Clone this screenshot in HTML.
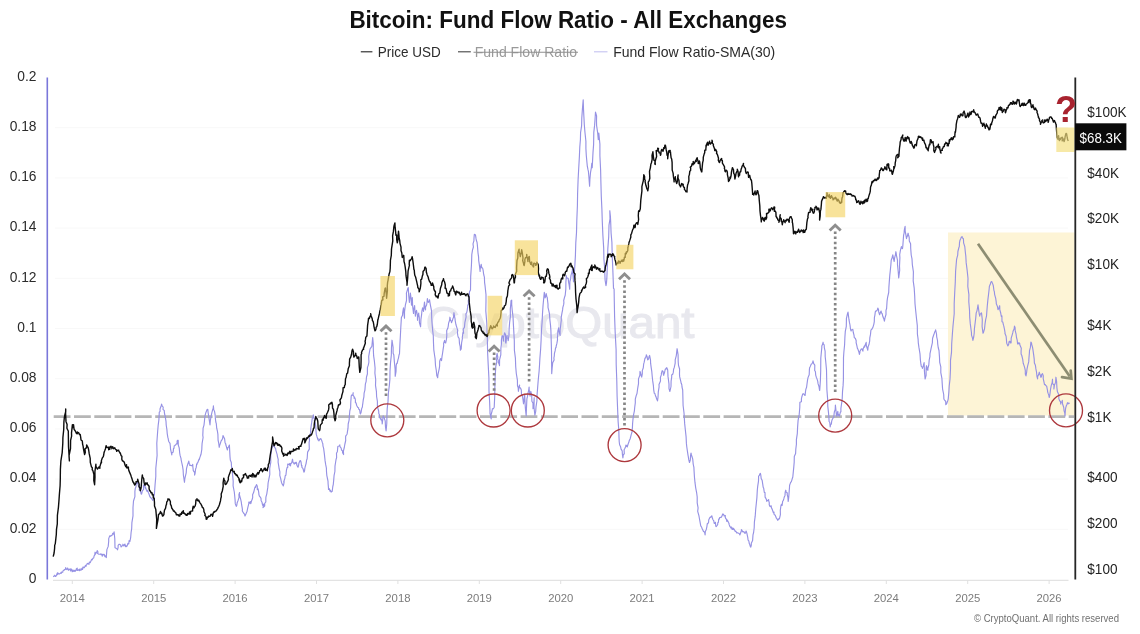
<!DOCTYPE html>
<html lang="en">
<head>
<meta charset="utf-8">
<title>Bitcoin: Fund Flow Ratio - All Exchanges</title>
<style>
html,body{margin:0;padding:0;background:#fff;}
body{width:1140px;height:634px;overflow:hidden;font-family:"Liberation Sans", sans-serif;}
svg{display:block;font-family:"Liberation Sans", sans-serif;}
</style>
</head>
<body>
<svg width="1140" height="634" viewBox="0 0 1140 634">
<rect width="1140" height="634" fill="#ffffff"/>
<line x1="55" x2="1068" y1="529.3" y2="529.3" stroke="#f8f8f8" stroke-width="1"/>
<line x1="55" x2="1068" y1="479.1" y2="479.1" stroke="#f8f8f8" stroke-width="1"/>
<line x1="55" x2="1068" y1="428.9" y2="428.9" stroke="#f8f8f8" stroke-width="1"/>
<line x1="55" x2="1068" y1="378.7" y2="378.7" stroke="#f8f8f8" stroke-width="1"/>
<line x1="55" x2="1068" y1="328.5" y2="328.5" stroke="#f8f8f8" stroke-width="1"/>
<line x1="55" x2="1068" y1="278.3" y2="278.3" stroke="#f8f8f8" stroke-width="1"/>
<line x1="55" x2="1068" y1="228.1" y2="228.1" stroke="#f8f8f8" stroke-width="1"/>
<line x1="55" x2="1068" y1="177.9" y2="177.9" stroke="#f8f8f8" stroke-width="1"/>
<line x1="55" x2="1068" y1="127.7" y2="127.7" stroke="#f8f8f8" stroke-width="1"/>
<rect x="948" y="232.5" width="126.5" height="183" fill="#fdf4d6"/>
<text x="425.5" y="338.4" font-family='"Liberation Sans", sans-serif' font-size="45" fill="#e8e8ee" stroke="#e8e8ee" stroke-width="1.1" textLength="269" lengthAdjust="spacingAndGlyphs">CryptoQuant</text>
<line x1="53.7" x2="1074" y1="416.6" y2="416.6" stroke="#b6b6b6" stroke-width="2.6" stroke-dasharray="16.8 3.5"/>
<line x1="53" x2="1068.5" y1="580.3" y2="580.3" stroke="#dcdcdc" stroke-width="1"/>
<line x1="72.3" x2="72.3" y1="580" y2="584" stroke="#e0e0e0" stroke-width="1"/>
<line x1="153.7" x2="153.7" y1="580" y2="584" stroke="#e0e0e0" stroke-width="1"/>
<line x1="235.1" x2="235.1" y1="580" y2="584" stroke="#e0e0e0" stroke-width="1"/>
<line x1="316.5" x2="316.5" y1="580" y2="584" stroke="#e0e0e0" stroke-width="1"/>
<line x1="397.9" x2="397.9" y1="580" y2="584" stroke="#e0e0e0" stroke-width="1"/>
<line x1="479.3" x2="479.3" y1="580" y2="584" stroke="#e0e0e0" stroke-width="1"/>
<line x1="560.7" x2="560.7" y1="580" y2="584" stroke="#e0e0e0" stroke-width="1"/>
<line x1="642.1" x2="642.1" y1="580" y2="584" stroke="#e0e0e0" stroke-width="1"/>
<line x1="723.5" x2="723.5" y1="580" y2="584" stroke="#e0e0e0" stroke-width="1"/>
<line x1="804.9" x2="804.9" y1="580" y2="584" stroke="#e0e0e0" stroke-width="1"/>
<line x1="886.3" x2="886.3" y1="580" y2="584" stroke="#e0e0e0" stroke-width="1"/>
<line x1="967.7" x2="967.7" y1="580" y2="584" stroke="#e0e0e0" stroke-width="1"/>
<line x1="1049.1" x2="1049.1" y1="580" y2="584" stroke="#e0e0e0" stroke-width="1"/>
<path d="M53.2 576.8 L53.9 576.3 L54.2 576.0 L54.7 575.2 L55.4 576.5 L55.9 576.2 L56.4 575.4 L57.1 573.5 L57.4 574.7 L57.4 572.9 L58.3 573.3 L58.9 574.1 L59.3 574.0 L60.1 573.6 L61.0 572.5 L61.4 573.3 L61.3 572.1 L62.1 572.2 L62.7 572.3 L62.9 570.9 L64.0 570.3 L64.3 569.6 L64.3 570.0 L65.4 569.2 L65.7 567.6 L66.1 569.1 L66.8 569.6 L67.6 568.0 L68.1 569.7 L68.5 570.3 L68.6 569.3 L69.3 569.7 L69.8 569.0 L70.3 568.8 L70.5 570.9 L71.6 569.1 L72.2 571.8 L71.9 569.5 L73.0 571.5 L73.9 570.1 L74.2 571.5 L74.8 570.5 L75.4 571.2 L75.9 570.0 L76.4 568.7 L77.0 570.2 L77.2 568.0 L77.3 570.5 L78.7 569.9 L79.4 569.2 L79.4 570.6 L80.1 570.4 L80.8 569.8 L80.9 568.9 L81.5 569.9 L82.3 568.0 L82.5 569.5 L83.1 566.9 L83.6 567.5 L84.0 567.7 L84.3 567.7 L85.4 565.4 L86.0 566.3 L86.3 565.0 L87.0 564.3 L87.3 563.4 L87.8 563.7 L88.5 563.6 L89.0 564.3 L89.3 562.1 L90.2 562.2 L90.5 561.8 L90.3 562.6 L91.6 559.4 L92.1 559.9 L92.8 558.4 L93.0 558.2 L93.7 558.0 L94.1 555.8 L94.7 555.1 L95.1 552.2 L95.4 554.2 L96.5 552.4 L96.9 551.8 L97.2 550.6 L98.0 552.1 L97.6 553.6 L98.5 554.1 L99.0 554.2 L100.1 554.1 L100.5 553.9 L101.0 554.7 L101.9 554.0 L102.0 554.9 L102.2 556.2 L103.1 554.3 L103.8 554.7 L104.3 555.3 L104.2 554.4 L104.9 556.6 L105.3 555.8 L106.3 557.6 L106.5 554.6 L106.9 549.6 L108.2 546.4 L108.7 541.3 L108.7 538.6 L109.7 535.9 L109.7 536.6 L110.5 536.2 L110.9 535.6 L111.9 535.6 L112.0 535.4 L112.8 533.3 L113.1 533.5 L113.5 534.1 L114.1 531.9 L114.8 538.7 L115.0 547.8 L115.9 548.1 L116.6 548.6 L117.0 548.9 L117.5 549.8 L118.1 547.6 L118.1 545.4 L119.2 544.2 L119.5 544.2 L120.0 544.7 L120.6 544.7 L121.0 547.0 L121.8 546.3 L121.9 546.1 L122.8 545.4 L122.9 544.2 L123.8 546.0 L124.3 544.9 L124.4 544.6 L124.9 544.0 L125.5 546.6 L126.0 545.7 L126.7 546.6 L127.4 545.2 L127.9 543.3 L127.8 543.7 L128.8 543.9 L129.1 540.6 L129.9 541.5 L130.7 537.3 L131.1 532.5 L131.7 528.3 L131.9 522.6 L133.0 515.8 L133.0 507.5 L133.5 501.0 L134.9 496.6 L134.9 491.3 L135.3 488.4 L136.0 486.7 L136.2 483.9 L136.9 483.3 L137.1 481.5 L137.6 482.2 L138.3 485.4 L138.6 485.5 L139.5 488.6 L139.2 489.9 L140.6 491.4 L141.1 493.9 L141.6 494.1 L142.4 490.7 L142.4 490.6 L143.6 489.5 L143.4 485.4 L144.1 484.7 L144.4 485.4 L145.4 488.4 L145.3 486.8 L146.5 490.2 L147.0 491.4 L147.3 490.7 L147.6 490.3 L148.5 493.0 L148.8 493.5 L149.5 495.5 L149.9 496.7 L150.5 497.2 L150.7 497.9 L151.4 498.0 L152.0 499.1 L152.5 499.8 L152.8 500.4 L153.8 498.6 L153.9 496.6 L154.4 494.2 L155.1 484.2 L155.8 476.5 L155.8 468.5 L157.1 455.4 L156.8 443.3 L157.7 430.8 L158.2 425.1 L158.9 419.6 L159.3 412.1 L160.1 411.4 L160.0 409.0 L161.1 406.0 L161.6 404.1 L162.2 406.2 L163.2 407.2 L163.0 409.3 L164.3 410.6 L164.3 411.8 L164.6 414.0 L165.2 416.4 L166.0 421.3 L166.2 425.0 L166.9 429.6 L167.2 433.3 L167.8 437.2 L168.1 438.1 L168.5 440.5 L168.9 441.7 L170.0 443.4 L170.4 446.8 L170.5 449.0 L171.5 453.4 L171.8 455.0 L171.9 452.9 L173.2 452.1 L173.5 448.4 L173.9 448.6 L174.3 445.7 L174.8 445.5 L175.8 444.8 L176.4 443.8 L177.1 444.0 L177.1 441.0 L177.4 440.4 L178.2 440.4 L178.3 445.1 L179.2 447.9 L179.7 453.0 L180.1 455.4 L181.0 458.4 L181.2 460.1 L181.7 462.5 L182.5 466.0 L183.1 469.8 L183.4 475.2 L183.9 478.4 L184.5 482.3 L184.8 478.8 L185.6 475.4 L186.2 472.8 L186.5 468.6 L187.0 466.6 L187.8 464.0 L188.4 462.6 L188.8 461.1 L189.3 464.0 L189.9 464.2 L189.7 465.4 L190.8 465.5 L191.9 465.8 L192.1 465.2 L192.5 465.1 L192.7 464.3 L192.9 467.3 L193.3 470.6 L194.7 472.6 L194.6 475.1 L195.1 473.3 L195.6 469.0 L196.2 467.4 L196.7 463.9 L196.9 464.7 L197.3 462.8 L197.7 462.9 L198.3 461.2 L199.0 459.2 L199.3 459.7 L200.0 456.9 L200.3 456.2 L201.0 454.3 L201.8 449.5 L201.9 446.8 L202.1 443.4 L203.1 437.5 L202.8 435.3 L203.1 428.2 L204.0 425.1 L204.4 421.5 L204.7 418.3 L205.1 415.3 L206.0 412.1 L206.3 411.7 L206.9 409.8 L207.8 409.3 L207.8 409.2 L208.1 412.5 L208.7 416.1 L209.4 421.0 L210.0 424.9 L210.3 421.0 L210.3 420.6 L211.4 414.8 L212.0 412.1 L212.6 410.0 L213.2 408.3 L213.4 405.8 L213.7 409.4 L214.6 411.6 L215.1 414.9 L215.4 418.6 L215.8 422.0 L216.3 423.6 L216.7 428.2 L217.4 431.0 L217.9 434.3 L218.1 440.4 L218.7 443.0 L219.2 447.3 L219.5 445.9 L220.3 443.6 L221.2 440.6 L221.2 440.8 L221.9 439.9 L222.6 438.5 L223.0 435.7 L223.5 436.2 L223.7 436.9 L224.6 438.7 L225.1 443.0 L225.7 443.7 L225.8 444.8 L226.6 447.2 L226.6 447.5 L227.4 450.0 L227.8 447.7 L228.5 447.1 L228.8 446.3 L229.4 445.1 L230.0 456.6 L230.3 460.0 L231.3 462.5 L231.5 466.1 L232.2 470.8 L232.6 475.0 L233.2 481.2 L233.1 485.8 L234.3 492.0 L234.8 497.0 L235.1 500.1 L235.3 503.9 L236.3 506.4 L236.8 505.2 L237.2 502.7 L238.1 500.4 L239.1 497.2 L238.9 494.6 L239.6 492.5 L239.4 494.6 L240.7 499.3 L241.3 502.1 L241.6 504.7 L242.2 507.9 L242.5 510.3 L242.2 510.8 L243.5 513.0 L244.7 514.3 L244.6 514.9 L245.0 516.0 L245.9 514.0 L246.3 513.0 L247.1 511.2 L247.3 510.0 L247.8 507.7 L248.8 503.6 L248.8 502.1 L249.5 503.2 L250.3 501.5 L250.6 503.4 L250.8 503.6 L251.6 500.7 L251.7 500.4 L252.3 499.1 L252.7 497.4 L252.6 494.8 L253.8 492.1 L254.0 491.2 L254.8 487.7 L255.3 486.7 L255.6 487.5 L255.8 486.3 L256.5 484.6 L257.3 486.2 L257.3 489.6 L258.1 488.8 L258.4 490.5 L258.8 492.9 L258.9 494.5 L259.4 496.2 L260.2 497.0 L261.0 498.4 L261.1 500.4 L262.1 502.4 L262.2 503.5 L262.7 505.3 L263.8 504.1 L263.0 507.6 L264.1 506.6 L264.7 505.9 L264.7 503.3 L265.8 502.0 L265.8 500.0 L265.9 497.2 L266.8 493.8 L267.2 491.2 L267.8 487.4 L268.1 483.0 L269.0 478.3 L269.8 474.5 L269.7 468.6 L270.8 462.1 L270.7 458.8 L270.8 455.0 L271.6 450.0 L272.2 446.8 L272.1 447.7 L273.1 445.8 L273.6 443.7 L273.9 445.8 L274.4 446.6 L274.7 447.7 L275.6 448.3 L275.9 450.6 L276.2 451.3 L277.1 454.4 L277.4 456.3 L278.2 459.3 L278.1 462.2 L278.8 466.4 L279.1 468.7 L279.9 471.8 L279.8 475.4 L280.7 478.6 L281.2 481.1 L281.5 482.4 L282.4 484.4 L282.6 484.4 L283.3 485.9 L283.8 483.8 L284.2 481.7 L283.7 482.0 L284.9 478.1 L285.2 475.8 L285.9 475.3 L286.5 469.9 L286.9 468.3 L287.3 467.2 L287.8 467.4 L287.7 464.1 L288.8 464.4 L289.4 463.8 L289.8 465.3 L290.0 463.4 L290.6 465.9 L290.4 464.8 L291.7 462.6 L291.7 463.0 L292.5 459.2 L292.8 461.2 L293.2 462.6 L293.7 463.1 L294.3 464.1 L295.1 462.4 L295.1 463.5 L296.1 463.0 L296.2 462.2 L296.9 464.1 L296.6 464.6 L297.8 467.0 L298.1 467.2 L298.5 465.9 L298.9 463.2 L299.4 462.0 L300.1 460.5 L300.7 461.0 L301.1 462.5 L301.5 465.6 L301.9 465.4 L301.9 467.3 L302.9 468.3 L303.4 470.0 L303.9 472.2 L304.5 471.1 L304.8 468.6 L305.1 467.0 L305.5 465.6 L306.2 463.0 L306.6 460.1 L307.1 459.0 L307.3 456.8 L307.6 452.1 L309.3 449.1 L309.1 442.4 L309.5 440.6 L309.3 436.9 L310.5 433.2 L310.8 428.6 L311.3 424.8 L311.7 422.4 L312.3 418.1 L313.0 417.7 L313.3 414.9 L313.8 417.6 L314.8 420.1 L314.2 420.4 L315.3 423.3 L315.9 427.3 L315.9 429.7 L316.3 434.4 L317.0 436.7 L318.1 440.0 L317.8 438.3 L318.3 439.8 L319.0 440.8 L319.8 439.1 L320.0 439.2 L320.3 439.2 L320.8 438.9 L320.7 438.5 L321.6 440.2 L322.3 442.4 L322.8 443.7 L323.0 446.1 L323.6 448.2 L324.3 453.4 L324.6 456.1 L325.1 460.9 L325.7 464.7 L326.4 468.2 L326.5 471.8 L326.8 475.3 L328.0 481.1 L328.1 483.8 L328.5 488.1 L328.5 489.5 L329.5 488.8 L329.9 491.2 L330.3 490.6 L330.5 490.4 L331.1 492.1 L332.3 490.9 L332.2 491.3 L332.8 486.5 L333.3 484.3 L333.7 480.1 L334.1 475.3 L334.9 471.5 L335.0 466.1 L335.4 463.5 L336.1 459.2 L336.6 457.8 L336.5 453.3 L337.4 451.4 L337.8 446.7 L338.1 446.3 L339.0 446.0 L339.4 445.6 L339.9 444.9 L339.7 445.8 L340.5 447.4 L341.1 447.9 L341.5 450.0 L342.5 450.9 L342.6 452.8 L343.1 453.5 L343.6 454.6 L343.4 451.0 L344.3 447.5 L344.8 444.5 L345.7 440.5 L345.6 438.0 L345.7 436.1 L347.0 434.2 L347.1 433.9 L348.0 428.2 L348.2 424.0 L349.1 420.2 L349.4 415.8 L349.8 411.0 L350.6 407.9 L350.8 401.9 L351.1 397.9 L351.2 396.2 L351.6 395.0 L352.7 395.3 L353.2 392.7 L353.0 395.0 L354.2 396.9 L354.1 398.3 L355.0 398.0 L355.4 400.0 L355.4 402.6 L356.0 402.7 L356.7 405.5 L357.4 406.8 L357.6 407.3 L358.5 407.7 L358.7 409.1 L359.6 409.8 L359.8 410.8 L360.1 413.3 L360.5 413.9 L361.1 412.4 L361.7 408.4 L362.4 407.0 L362.5 405.5 L362.9 402.8 L363.3 399.6 L363.9 396.8 L364.1 393.2 L364.9 390.1 L365.4 383.8 L366.1 381.6 L366.5 377.0 L367.4 374.0 L367.4 370.9 L367.4 367.6 L368.3 365.1 L368.9 362.0 L368.7 356.4 L369.4 352.4 L370.1 348.7 L370.5 348.4 L371.0 347.5 L371.7 346.7 L371.9 346.1 L372.7 337.6 L373.3 344.0 L373.3 348.5 L373.6 355.7 L374.4 361.2 L375.1 368.3 L374.9 373.1 L375.7 379.7 L375.5 385.3 L376.4 391.3 L376.6 396.5 L377.4 401.4 L377.4 406.0 L378.1 409.0 L378.7 411.2 L378.8 413.6 L379.4 414.8 L379.6 417.6 L380.3 418.2 L380.7 418.6 L380.9 419.8 L381.2 418.8 L382.1 421.7 L382.2 424.0 L382.7 419.9 L383.2 415.8 L383.3 416.6 L384.0 417.3 L384.9 420.1 L385.2 420.9 L385.5 427.1 L386.1 430.9 L386.8 423.3 L386.9 416.2 L387.2 408.9 L388.0 401.4 L388.4 393.0 L389.3 385.8 L389.9 379.1 L390.0 371.0 L390.5 362.9 L391.3 355.4 L391.5 347.5 L392.0 340.2 L393.1 347.4 L393.1 353.2 L393.8 354.8 L394.3 361.1 L395.1 369.1 L395.2 376.3 L396.0 371.7 L396.2 365.3 L396.7 363.4 L397.1 363.5 L398.1 359.1 L398.4 358.4 L399.1 354.7 L399.5 353.8 L399.9 344.2 L400.4 335.5 L400.8 327.5 L401.4 317.4 L402.0 316.2 L402.5 315.4 L402.7 312.5 L403.5 307.9 L403.9 312.4 L404.5 318.2 L404.5 312.0 L405.4 304.8 L406.5 300.5 L406.5 294.9 L406.4 293.2 L407.4 289.8 L407.8 288.4 L408.3 287.7 L408.7 295.5 L409.4 302.5 L410.0 297.2 L410.4 293.1 L411.1 298.8 L411.5 305.1 L412.1 300.4 L412.3 297.5 L412.7 306.7 L413.5 313.4 L413.6 310.2 L414.6 305.6 L414.9 310.2 L415.4 316.1 L415.8 312.5 L416.5 310.4 L417.4 315.5 L417.5 320.3 L417.7 317.8 L418.7 313.1 L418.7 314.2 L419.3 317.5 L419.4 322.6 L420.6 326.8 L420.9 319.7 L421.6 314.7 L421.9 311.0 L422.6 307.8 L423.0 309.4 L423.5 311.4 L424.0 306.2 L424.5 302.1 L425.0 308.0 L425.5 309.9 L425.6 307.0 L426.6 305.0 L427.0 302.4 L427.4 298.6 L428.1 301.9 L428.3 302.4 L429.7 300.4 L429.5 299.8 L430.0 302.9 L430.4 305.1 L431.5 310.7 L431.7 317.6 L432.0 322.8 L432.7 330.6 L433.3 335.9 L433.5 343.2 L433.8 349.8 L434.6 355.5 L435.1 358.6 L435.5 365.5 L436.3 370.5 L436.8 375.8 L436.8 375.6 L437.7 377.7 L437.9 374.8 L438.7 371.1 L439.2 368.8 L439.6 366.2 L439.7 361.2 L440.6 358.6 L440.9 358.7 L441.5 360.6 L442.0 356.7 L442.6 353.0 L443.1 349.4 L443.7 345.7 L443.6 343.4 L444.6 340.4 L444.8 342.4 L445.7 342.9 L446.5 339.0 L446.8 335.4 L446.7 330.6 L447.8 328.3 L448.3 325.8 L448.6 323.1 L449.0 322.0 L449.6 320.3 L449.9 317.2 L450.5 320.4 L451.1 320.8 L451.5 322.7 L452.0 321.2 L452.4 320.7 L453.0 318.4 L453.5 317.5 L453.7 314.5 L454.0 312.7 L454.3 315.2 L455.1 319.1 L455.1 320.1 L455.6 322.8 L455.9 324.5 L456.7 327.1 L457.7 330.3 L457.4 332.9 L457.9 335.9 L458.2 337.2 L459.1 338.3 L459.3 340.8 L459.5 343.6 L460.2 346.5 L460.4 350.1 L461.2 348.9 L461.5 344.8 L461.6 342.8 L462.4 338.6 L462.3 337.6 L462.9 332.7 L463.6 333.2 L463.2 329.1 L464.3 327.6 L464.5 326.8 L464.9 322.3 L465.5 319.7 L466.1 316.9 L465.9 313.9 L466.6 312.8 L467.1 310.8 L467.7 306.7 L467.7 305.4 L468.5 304.1 L468.3 300.7 L469.2 297.3 L469.2 295.9 L469.5 291.8 L470.5 289.9 L470.7 276.4 L471.4 265.7 L471.6 261.0 L471.8 254.5 L472.5 250.2 L473.4 247.0 L473.0 243.9 L473.9 240.8 L474.0 238.3 L474.3 234.6 L474.9 234.3 L475.5 235.0 L476.0 238.4 L476.4 240.5 L477.0 242.1 L477.3 244.5 L477.6 247.9 L478.0 252.8 L478.6 257.2 L478.7 260.5 L479.1 263.2 L479.6 267.0 L480.1 271.5 L480.2 269.1 L480.8 265.8 L481.2 264.3 L481.6 266.8 L481.5 267.6 L482.6 268.0 L483.2 270.7 L483.5 273.3 L483.8 275.0 L484.4 277.1 L484.6 282.6 L485.0 285.4 L486.0 294.8 L486.0 300.8 L485.8 310.9 L486.8 323.4 L487.3 337.0 L487.6 352.3 L488.2 364.6 L488.9 377.7 L489.0 391.5 L489.6 401.2 L490.0 411.2 L490.0 413.5 L491.2 418.9 L491.0 415.0 L492.1 411.0 L492.4 408.7 L493.2 408.8 L493.8 408.0 L494.2 407.2 L494.7 396.7 L494.9 385.9 L495.2 375.7 L495.8 366.4 L496.8 361.8 L496.1 358.4 L497.1 353.3 L497.8 357.1 L497.5 358.8 L498.3 360.4 L498.4 362.7 L499.0 363.7 L499.5 365.7 L499.6 359.6 L500.8 354.9 L500.9 348.0 L501.4 344.2 L501.4 340.0 L502.1 335.6 L503.0 336.4 L503.4 340.5 L503.4 341.1 L503.5 337.7 L504.2 334.8 L504.6 332.9 L505.6 334.7 L505.4 341.5 L505.9 343.2 L506.2 340.7 L506.4 337.9 L507.1 335.5 L507.2 337.4 L507.9 338.8 L508.2 340.7 L509.0 334.9 L509.1 329.2 L509.6 322.7 L510.4 316.7 L510.3 309.2 L510.9 302.7 L511.0 300.6 L511.7 300.1 L511.7 304.2 L512.2 310.3 L513.0 316.6 L513.3 322.8 L513.8 331.6 L514.3 340.6 L514.4 350.2 L515.4 358.1 L515.7 366.5 L516.3 373.5 L517.4 380.2 L517.5 385.8 L518.2 387.7 L518.4 391.3 L519.0 386.9 L519.6 385.0 L519.4 387.2 L520.6 388.2 L521.3 390.0 L521.5 394.1 L521.9 395.6 L522.4 395.6 L523.0 399.6 L523.5 403.8 L524.1 399.3 L524.7 394.7 L525.0 402.0 L525.4 408.5 L525.9 413.5 L526.2 415.8 L526.5 407.2 L526.9 398.9 L527.5 396.4 L528.0 393.1 L528.7 390.2 L529.1 387.0 L529.2 390.2 L530.1 396.2 L530.4 393.5 L530.8 391.3 L531.7 395.4 L531.9 401.2 L533.0 403.3 L533.0 408.7 L533.8 403.6 L534.2 397.7 L534.0 407.3 L534.9 415.2 L535.7 411.4 L536.0 406.8 L536.9 401.0 L537.0 395.8 L537.6 388.1 L538.2 380.5 L538.6 376.2 L539.1 371.3 L539.5 365.5 L539.9 358.4 L540.6 349.5 L541.1 340.3 L541.4 331.4 L542.1 322.1 L542.5 313.5 L543.1 304.8 L543.6 299.5 L544.3 292.4 L544.9 295.8 L545.1 297.9 L546.0 295.6 L546.2 293.6 L546.7 296.2 L547.3 297.8 L547.5 300.0 L548.0 304.3 L548.0 307.4 L548.6 309.8 L549.5 313.9 L549.6 315.9 L549.9 320.0 L550.5 325.1 L550.9 330.4 L551.5 351.0 L551.7 373.6 L552.1 368.6 L552.7 362.8 L554.1 360.1 L553.9 358.0 L554.3 355.8 L554.4 353.7 L555.1 350.9 L555.6 347.7 L556.0 347.6 L556.2 346.0 L556.9 343.4 L557.5 339.8 L557.4 337.5 L557.7 335.0 L557.9 331.1 L558.7 327.9 L558.8 330.7 L559.6 333.3 L560.1 335.4 L560.1 330.5 L560.9 323.3 L561.3 320.0 L561.2 317.3 L562.0 312.9 L562.6 309.9 L562.8 307.6 L563.7 304.4 L563.9 302.4 L563.7 300.5 L564.7 296.7 L565.2 295.2 L565.8 289.2 L565.9 281.7 L566.4 275.7 L566.5 277.4 L567.5 278.2 L568.2 278.2 L568.6 282.4 L569.1 284.6 L569.7 289.2 L569.9 281.5 L570.6 278.9 L571.0 275.4 L571.8 272.6 L572.5 269.9 L572.3 268.7 L573.1 276.1 L573.5 281.8 L573.6 275.7 L574.4 272.5 L575.0 262.9 L575.4 255.9 L575.8 242.6 L576.5 232.6 L576.8 220.7 L577.4 205.8 L577.6 193.6 L578.1 179.8 L578.7 168.5 L579.4 156.4 L579.8 147.0 L580.4 139.8 L580.6 132.3 L581.6 125.8 L581.8 118.0 L582.4 109.4 L583.2 99.8 L583.5 108.9 L583.9 116.7 L584.3 124.5 L585.0 132.7 L585.9 141.2 L585.9 148.5 L586.3 155.5 L587.0 163.0 L587.3 166.2 L588.0 169.7 L588.4 171.3 L588.8 175.7 L589.6 186.1 L589.9 179.5 L590.5 172.7 L591.3 168.1 L591.8 163.4 L592.2 167.6 L593.0 152.6 L593.6 144.6 L593.8 132.4 L594.6 125.4 L595.0 119.8 L595.5 112.1 L596.6 115.8 L596.5 121.6 L596.6 125.6 L597.6 132.3 L598.3 139.7 L598.8 133.0 L599.9 144.1 L599.9 155.7 L600.6 169.5 L600.9 182.6 L601.3 196.6 L601.9 209.1 L602.3 221.7 L602.9 235.6 L603.7 248.4 L603.9 258.8 L604.6 267.4 L604.9 275.5 L605.1 280.1 L606.0 285.7 L606.5 282.6 L606.8 278.9 L607.5 262.5 L607.8 249.1 L608.7 236.6 L609.0 225.2 L610.0 218.9 L609.8 210.7 L610.4 216.3 L610.7 222.4 L611.1 233.3 L611.9 242.2 L612.2 255.2 L612.8 269.0 L613.5 288.3 L614.1 288.9 L614.3 301.2 L614.6 316.7 L615.2 333.0 L616.1 349.6 L616.2 364.4 L616.8 381.2 L617.1 395.9 L617.6 408.7 L618.1 421.3 L618.8 430.2 L619.0 437.1 L619.2 441.5 L619.6 444.7 L620.6 446.8 L621.1 449.4 L621.3 449.4 L622.2 451.0 L622.4 454.4 L622.9 457.9 L623.3 454.7 L624.3 453.8 L624.1 449.8 L624.8 448.5 L625.5 446.9 L626.0 445.0 L626.5 446.3 L626.8 445.8 L627.3 446.9 L627.8 445.0 L628.7 442.4 L629.0 441.9 L629.1 441.0 L630.2 438.7 L630.5 437.5 L631.2 434.6 L632.0 432.0 L632.4 427.9 L632.6 423.5 L633.0 419.0 L633.5 415.1 L634.4 410.8 L634.7 407.5 L635.3 402.9 L635.3 399.2 L636.2 395.6 L637.0 393.5 L637.6 389.0 L637.9 387.1 L638.5 383.6 L638.5 378.9 L639.9 375.1 L640.0 371.4 L640.5 372.5 L641.2 375.9 L641.7 377.1 L642.3 373.9 L642.3 370.6 L643.3 367.8 L643.7 363.8 L644.2 362.2 L645.0 358.1 L645.6 357.9 L646.3 355.5 L646.3 354.7 L647.3 357.3 L647.2 357.6 L647.7 360.0 L648.6 358.8 L649.1 356.4 L649.6 355.4 L650.5 359.8 L650.6 363.2 L651.2 367.6 L651.8 371.7 L652.2 376.3 L652.7 380.9 L653.4 385.7 L653.7 389.8 L654.3 393.3 L654.9 393.6 L655.3 395.0 L655.8 396.6 L655.9 396.5 L656.7 399.0 L657.5 400.9 L658.0 397.5 L658.3 391.8 L659.1 386.9 L659.0 384.6 L660.5 381.1 L660.4 377.5 L661.3 374.9 L661.4 373.4 L662.2 370.7 L663.1 371.5 L663.3 374.1 L663.7 375.3 L663.9 374.1 L664.4 373.1 L665.3 369.0 L666.0 369.2 L666.3 368.0 L666.8 367.7 L667.7 370.0 L668.0 376.4 L668.5 380.2 L669.0 384.1 L669.0 388.6 L669.9 391.5 L671.0 386.5 L671.1 381.2 L671.7 377.1 L671.7 374.9 L672.6 374.5 L673.3 372.4 L673.6 369.2 L674.3 367.4 L674.9 364.5 L675.2 363.2 L675.2 359.8 L676.3 355.6 L676.7 352.1 L677.1 348.7 L678.1 354.9 L678.2 361.8 L678.5 365.3 L679.6 369.0 L679.5 374.3 L679.7 376.9 L680.8 381.4 L681.2 383.3 L681.8 384.8 L682.0 387.0 L682.7 390.0 L683.1 405.5 L684.0 412.8 L684.3 417.8 L684.7 423.9 L685.3 429.5 L686.1 436.9 L686.4 443.4 L686.8 447.0 L687.4 451.2 L688.0 455.1 L688.3 456.6 L688.8 459.9 L689.5 462.5 L690.3 460.1 L690.6 455.3 L691.0 453.0 L691.4 454.7 L692.0 456.8 L692.7 458.9 L693.2 464.1 L693.9 467.4 L694.1 471.4 L694.5 477.6 L695.0 482.7 L695.7 487.8 L696.7 493.2 L697.2 497.0 L697.2 502.8 L698.1 507.8 L697.7 511.3 L698.9 515.6 L699.4 518.5 L699.8 520.6 L700.7 525.7 L700.8 525.9 L701.8 527.5 L702.0 528.5 L702.6 529.4 L703.5 531.5 L703.8 531.6 L704.6 532.2 L704.8 533.2 L705.1 534.9 L705.3 531.4 L706.3 529.4 L706.9 526.6 L707.3 523.5 L707.8 523.6 L708.6 522.2 L708.7 520.0 L709.5 518.3 L709.9 517.4 L710.2 517.5 L711.1 516.8 L711.8 515.8 L712.0 517.0 L712.8 519.2 L713.2 520.0 L713.8 520.9 L714.2 523.5 L714.7 523.5 L715.4 522.3 L715.8 526.1 L716.2 526.6 L717.1 525.5 L717.7 524.5 L717.8 522.7 L718.4 522.2 L718.7 519.1 L719.3 519.2 L719.7 517.5 L720.7 517.3 L720.8 517.4 L721.4 517.3 L722.5 514.7 L722.5 514.0 L722.9 514.1 L723.5 514.3 L724.2 515.9 L725.4 515.6 L725.2 517.0 L725.8 518.8 L726.4 519.1 L726.8 521.5 L727.4 520.0 L727.7 520.8 L728.5 522.6 L729.0 523.4 L729.1 524.4 L729.8 526.3 L730.4 527.1 L731.1 528.2 L731.1 526.7 L732.2 529.5 L732.8 527.9 L733.2 529.6 L733.6 528.5 L734.2 529.3 L734.9 530.7 L735.1 531.4 L735.8 531.5 L735.9 531.2 L736.7 532.9 L736.6 532.8 L737.8 532.7 L738.1 533.2 L739.0 533.3 L739.7 534.4 L739.8 534.9 L740.4 533.5 L741.4 530.8 L741.4 529.6 L741.8 530.1 L742.7 531.7 L743.1 531.9 L743.9 531.5 L744.0 532.0 L744.7 532.9 L745.0 533.4 L745.7 532.2 L746.1 531.0 L746.9 533.4 L747.4 535.9 L747.8 537.7 L748.1 540.2 L748.8 540.9 L749.3 543.6 L749.8 544.5 L750.2 546.1 L750.8 547.1 L751.3 545.2 L751.3 543.3 L752.6 540.6 L753.0 534.8 L753.6 532.5 L754.2 527.8 L754.4 522.1 L755.2 516.2 L755.7 509.3 L756.3 503.5 L756.9 497.6 L757.3 490.2 L757.7 486.4 L758.5 481.2 L758.6 476.2 L759.4 475.3 L759.7 474.2 L760.4 473.4 L760.8 475.2 L761.2 478.6 L762.2 480.6 L762.8 484.6 L763.2 487.3 L763.7 488.3 L764.3 492.4 L765.0 492.6 L765.1 497.1 L765.9 498.4 L766.5 499.8 L766.8 501.5 L766.9 501.0 L768.7 499.6 L768.5 500.0 L769.3 502.9 L769.2 504.5 L769.7 506.2 L770.7 506.6 L771.0 505.6 L771.6 508.0 L771.8 508.6 L772.3 509.5 L773.3 512.7 L774.0 512.1 L774.0 513.9 L774.4 514.8 L775.2 515.1 L776.2 517.8 L776.2 517.9 L777.1 519.0 L777.4 519.7 L777.7 520.3 L778.8 518.9 L778.3 519.0 L779.4 518.9 L780.4 514.7 L780.3 510.3 L780.9 506.0 L781.5 504.3 L782.1 505.5 L782.7 501.2 L783.3 500.5 L783.8 498.9 L784.3 496.9 L785.0 495.4 L785.2 492.1 L785.8 490.2 L786.1 492.1 L787.4 493.0 L787.1 493.9 L787.9 497.4 L788.2 501.4 L788.7 497.6 L789.2 491.1 L789.5 487.2 L789.6 485.2 L790.4 483.1 L790.7 482.2 L791.3 481.8 L792.2 478.8 L792.8 477.0 L793.3 471.9 L793.8 466.9 L794.2 462.1 L794.3 456.4 L795.6 453.6 L795.8 449.2 L796.4 444.3 L796.4 439.7 L797.3 433.7 L797.6 427.1 L798.1 420.4 L799.2 414.4 L799.4 412.2 L799.8 407.3 L799.9 402.2 L801.4 401.7 L801.4 398.8 L801.8 397.0 L802.6 394.4 L803.1 393.7 L803.5 393.7 L804.7 395.2 L805.1 395.5 L805.5 391.5 L805.9 389.1 L806.6 387.3 L806.9 384.8 L807.6 379.6 L808.1 377.4 L809.2 374.7 L809.4 369.6 L809.6 367.7 L810.3 366.4 L811.3 364.0 L811.4 364.1 L812.2 363.3 L812.7 362.4 L813.0 360.9 L813.7 363.7 L814.8 365.2 L814.7 370.6 L815.4 371.5 L815.7 375.1 L816.3 377.2 L817.0 378.9 L817.7 381.2 L818.1 383.9 L819.0 386.5 L819.3 388.8 L819.7 390.5 L820.4 380.3 L820.7 370.7 L820.8 358.0 L821.8 347.6 L821.8 346.1 L822.7 344.0 L823.1 342.2 L823.3 344.0 L824.2 344.9 L824.3 347.6 L825.1 351.1 L825.2 356.8 L825.7 361.2 L826.5 369.9 L826.7 380.6 L826.9 389.8 L827.6 398.6 L827.8 406.3 L828.5 412.6 L828.9 417.5 L829.1 421.5 L829.8 422.5 L830.2 427.0 L830.5 424.8 L830.6 424.6 L831.4 424.1 L831.6 421.6 L832.0 420.1 L833.1 418.0 L833.8 417.1 L834.1 413.9 L834.4 411.6 L835.2 409.5 L835.4 405.1 L836.1 411.9 L836.5 415.9 L836.9 416.2 L837.2 413.4 L837.8 411.4 L838.3 415.5 L839.0 414.6 L839.4 416.2 L839.6 415.3 L840.3 412.3 L840.9 411.8 L840.9 408.3 L841.6 403.5 L842.2 399.0 L842.5 391.9 L843.1 385.4 L843.4 379.7 L843.5 357.5 L843.9 351.7 L844.6 344.8 L844.9 337.2 L845.3 331.4 L846.3 326.3 L846.4 320.9 L846.4 318.6 L847.5 313.7 L848.0 312.1 L848.6 316.8 L848.9 319.2 L849.5 322.7 L850.0 325.0 L850.5 329.1 L851.1 331.0 L851.4 329.8 L852.5 329.7 L852.8 329.4 L853.3 332.5 L854.0 335.1 L854.3 337.7 L855.3 338.2 L856.2 340.8 L856.1 342.5 L856.9 345.9 L857.4 348.4 L857.9 349.1 L858.3 350.2 L858.9 352.0 L859.4 354.4 L859.9 352.7 L859.9 351.5 L861.2 349.1 L862.0 348.9 L862.6 350.4 L862.9 351.1 L863.1 349.0 L863.8 347.3 L864.4 345.9 L864.6 347.1 L865.4 344.5 L866.2 342.4 L866.3 345.3 L867.2 348.4 L867.8 350.2 L868.1 346.7 L869.0 344.6 L869.7 340.8 L869.8 337.9 L870.5 334.4 L870.9 330.2 L872.2 328.8 L872.1 328.6 L872.9 327.4 L873.8 324.3 L874.3 321.6 L874.4 317.6 L874.9 315.1 L875.3 311.9 L876.0 310.8 L876.7 310.9 L877.4 309.8 L877.8 308.0 L878.5 309.5 L878.7 311.9 L879.6 314.7 L880.4 312.5 L880.2 312.8 L881.1 311.1 L881.5 313.0 L882.1 313.4 L882.8 316.3 L883.5 318.2 L883.8 318.6 L884.4 321.1 L885.0 317.8 L886.0 314.5 L886.0 310.4 L886.6 308.5 L887.1 300.8 L887.6 297.4 L888.7 292.5 L888.9 287.1 L889.3 281.6 L889.8 275.1 L890.3 270.5 L890.9 264.5 L891.2 260.2 L892.0 258.0 L892.8 254.8 L893.2 257.2 L893.4 258.3 L894.2 261.5 L894.5 258.4 L895.4 254.9 L895.9 251.7 L896.5 255.6 L897.5 260.3 L897.5 264.6 L898.2 271.1 L898.7 278.0 L899.7 270.2 L899.5 266.1 L899.9 257.7 L899.7 254.5 L900.4 250.3 L901.4 246.6 L901.3 247.8 L902.4 248.6 L902.6 248.0 L902.9 244.9 L903.3 239.3 L903.6 235.2 L904.1 233.2 L904.3 230.1 L905.1 226.3 L905.2 231.1 L905.9 234.8 L906.5 238.6 L906.9 236.9 L907.3 236.3 L908.1 233.2 L908.5 234.9 L908.8 236.0 L909.2 237.5 L909.3 241.0 L910.6 243.7 L910.7 248.3 L911.2 255.0 L912.0 258.9 L912.3 264.3 L913.4 271.8 L913.2 280.9 L914.2 288.2 L914.7 296.0 L915.0 303.6 L915.7 310.8 L916.5 318.5 L917.3 325.6 L917.4 334.0 L918.1 339.2 L918.3 342.8 L918.9 347.2 L920.0 353.9 L920.4 360.0 L920.9 364.2 L921.3 366.4 L922.5 367.6 L922.3 368.5 L923.2 366.1 L923.4 365.5 L924.1 362.6 L924.4 370.9 L925.1 379.0 L926.1 375.4 L926.1 368.7 L926.5 365.7 L927.1 368.2 L927.0 369.6 L927.9 370.2 L927.9 368.3 L928.8 365.0 L929.2 360.0 L929.9 356.7 L930.0 353.6 L930.7 350.3 L931.1 348.3 L932.4 342.7 L932.4 341.4 L932.6 338.2 L933.6 335.2 L933.9 334.6 L934.5 332.6 L935.3 330.7 L935.6 329.9 L936.5 333.8 L936.7 336.8 L937.5 340.5 L937.7 343.8 L938.2 347.5 L939.0 350.5 L939.5 357.5 L939.7 362.3 L940.8 366.8 L940.8 372.6 L941.9 378.3 L942.2 383.4 L942.6 389.1 L943.7 394.5 L943.9 399.0 L944.2 399.6 L944.9 400.5 L945.7 401.4 L945.8 404.7 L946.6 403.9 L947.0 402.7 L947.9 400.2 L948.2 399.1 L948.9 391.6 L949.2 386.2 L950.0 379.2 L950.5 368.7 L950.5 360.4 L951.5 352.4 L951.7 343.7 L952.4 333.7 L953.0 326.0 L954.2 313.8 L954.2 303.3 L954.7 292.7 L955.3 281.9 L955.6 271.3 L956.6 259.3 L957.2 256.9 L957.7 255.1 L957.9 251.5 L958.9 247.5 L959.3 246.5 L959.5 242.7 L960.0 240.2 L960.6 238.9 L961.3 237.1 L962.2 236.7 L962.3 237.9 L963.3 238.5 L963.5 240.0 L963.6 242.9 L964.8 246.7 L965.4 252.8 L965.8 256.0 L966.2 262.9 L967.1 269.9 L968.0 278.3 L967.8 286.4 L968.9 294.7 L968.8 301.7 L969.5 310.0 L969.7 317.1 L970.3 323.9 L971.5 333.0 L971.5 335.1 L972.5 338.1 L972.9 340.4 L973.7 337.0 L974.2 333.2 L974.4 328.9 L975.0 324.0 L975.7 318.2 L976.2 312.9 L976.9 311.1 L977.6 307.6 L978.0 304.8 L978.3 307.0 L979.2 313.6 L979.7 316.2 L980.0 314.5 L981.0 313.3 L981.5 312.9 L982.3 319.8 L982.1 326.4 L983.0 333.2 L983.5 332.4 L984.1 330.2 L984.5 329.0 L985.0 324.2 L985.7 319.4 L986.5 316.2 L986.8 312.0 L987.3 305.7 L987.9 299.6 L988.5 294.7 L989.1 289.5 L989.4 286.2 L990.3 284.3 L990.8 282.4 L991.4 281.5 L991.7 281.5 L992.7 283.9 L993.0 284.7 L993.3 285.6 L993.9 290.3 L994.4 291.9 L994.6 294.3 L995.7 298.3 L996.2 301.8 L996.3 303.7 L997.5 306.6 L998.0 309.7 L998.4 309.0 L999.0 307.7 L999.7 305.7 L999.8 309.7 L1000.7 313.0 L1001.3 316.4 L1001.9 315.9 L1002.0 321.7 L1002.8 322.1 L1003.5 325.2 L1003.8 326.2 L1004.5 329.4 L1005.1 333.2 L1004.9 333.2 L1006.1 336.3 L1006.4 339.2 L1006.7 343.1 L1007.8 345.9 L1008.7 344.4 L1008.9 342.5 L1009.3 341.2 L1010.0 341.2 L1010.3 342.8 L1011.1 342.8 L1011.2 338.1 L1012.2 334.8 L1012.8 332.7 L1013.1 331.1 L1014.1 329.1 L1014.5 326.1 L1015.1 327.7 L1015.2 330.7 L1016.1 334.2 L1016.5 337.5 L1017.2 340.1 L1017.6 344.0 L1018.7 343.7 L1018.5 342.8 L1019.6 343.0 L1019.9 345.1 L1021.3 348.2 L1021.1 350.9 L1021.1 353.9 L1021.8 355.5 L1022.7 359.3 L1023.2 363.3 L1023.8 364.9 L1024.6 367.4 L1025.3 370.4 L1025.3 374.0 L1026.0 375.9 L1026.6 372.5 L1027.0 369.1 L1027.6 366.2 L1028.7 361.9 L1029.0 357.4 L1029.4 352.9 L1029.5 350.6 L1030.4 347.4 L1030.9 342.0 L1031.5 343.1 L1031.8 344.7 L1032.6 347.6 L1033.1 350.8 L1033.7 355.2 L1034.2 359.1 L1034.4 363.1 L1035.4 365.3 L1035.9 368.9 L1036.5 372.0 L1037.0 376.7 L1037.6 378.9 L1037.6 376.6 L1038.6 374.8 L1039.3 372.2 L1039.6 374.1 L1039.9 373.9 L1040.9 377.3 L1041.5 376.6 L1041.6 374.7 L1042.5 373.7 L1043.3 375.9 L1043.2 378.5 L1044.0 382.2 L1044.5 384.7 L1045.2 384.5 L1045.7 385.4 L1046.7 386.3 L1047.6 390.8 L1047.6 391.8 L1048.3 393.9 L1048.8 395.1 L1049.2 397.5 L1049.7 395.6 L1050.1 392.9 L1050.5 389.5 L1051.2 385.6 L1052.2 382.3 L1052.5 379.2 L1052.6 383.7 L1054.0 385.0 L1053.9 389.0 L1054.4 385.3 L1055.6 382.4 L1055.9 377.2 L1056.6 381.6 L1056.9 387.7 L1057.4 391.8 L1057.9 392.6 L1058.9 395.2 L1058.8 398.6 L1059.8 401.0 L1060.8 401.8 L1060.8 404.1 L1060.5 402.2 L1062.1 402.0 L1062.3 400.3 L1062.5 403.8 L1063.7 407.2 L1064.1 410.9 L1064.8 413.1 L1065.0 415.9 L1065.3 411.1 L1065.7 407.8 L1066.4 405.5 L1066.9 404.5 L1067.4 403.0 L1067.8 402.5 L1068.1 403.9 L1069.1 403.1 L1069.1 403.9" fill="none" stroke="#9692e4" stroke-width="1.15" stroke-linejoin="round"/>
<path d="M53.2 556.6 L54.1 553.0 L54.6 548.4 L54.7 545.4 L55.3 543.6 L55.9 538.2 L56.3 534.5 L56.5 529.3 L57.3 523.9 L57.4 515.4 L58.4 507.6 L58.9 501.4 L59.4 494.1 L60.1 485.8 L60.3 478.4 L60.4 469.1 L60.9 460.8 L62.2 452.6 L62.8 443.2 L62.9 437.6 L63.7 429.8 L63.9 421.9 L64.3 418.0 L64.9 414.7 L65.7 411.8 L65.7 408.9 L65.6 413.7 L66.0 421.4 L67.1 424.6 L66.9 428.3 L67.7 429.9 L68.3 431.0 L68.5 446.6 L69.4 460.9 L69.0 455.8 L70.5 448.7 L70.6 440.3 L71.6 436.1 L71.5 432.8 L72.0 428.4 L72.4 424.6 L72.4 428.1 L73.5 424.6 L74.1 429.4 L74.6 430.0 L75.5 431.3 L75.6 431.4 L76.3 433.3 L77.5 432.0 L77.1 433.8 L77.9 432.3 L78.0 432.9 L78.7 432.7 L79.4 434.6 L80.2 434.4 L80.7 437.4 L81.0 440.0 L81.5 440.3 L82.3 441.0 L82.6 444.1 L83.1 446.2 L83.4 448.4 L84.0 451.5 L84.6 454.5 L85.3 452.6 L85.0 448.9 L86.6 447.6 L86.6 444.9 L87.4 446.3 L88.1 447.5 L88.6 449.7 L88.9 451.5 L89.2 453.7 L90.2 458.4 L90.3 462.4 L91.2 465.9 L91.4 466.8 L92.3 467.7 L92.2 469.7 L92.9 470.6 L93.9 474.5 L93.8 480.6 L94.6 484.7 L95.0 477.2 L94.9 471.6 L95.9 464.3 L95.9 466.2 L96.6 467.6 L97.5 469.1 L97.6 468.7 L98.6 467.5 L99.0 466.9 L99.3 467.5 L99.9 468.3 L99.8 466.9 L101.3 461.7 L101.5 462.8 L101.4 460.6 L102.2 458.2 L103.3 456.7 L103.7 455.0 L104.0 452.8 L104.5 451.2 L104.9 450.3 L105.4 448.9 L106.1 445.6 L106.8 447.6 L107.5 447.5 L107.4 447.5 L108.6 447.2 L108.7 449.7 L109.9 449.1 L110.0 446.8 L110.6 447.2 L110.9 446.1 L112.0 447.8 L111.8 448.7 L112.5 447.6 L112.6 446.6 L113.7 448.8 L114.3 448.3 L114.8 447.7 L115.2 448.9 L115.8 449.6 L116.3 449.7 L116.7 451.4 L117.4 450.3 L118.1 450.1 L118.7 450.2 L118.7 450.8 L119.7 452.3 L120.2 453.4 L120.3 453.0 L121.1 455.6 L121.9 456.2 L121.8 459.2 L122.5 461.1 L123.3 461.1 L123.7 461.5 L124.4 462.6 L124.7 464.1 L125.1 465.2 L125.8 466.8 L126.5 464.6 L126.6 467.3 L126.9 468.0 L128.2 466.9 L128.5 467.8 L128.3 467.9 L128.9 470.8 L129.4 471.9 L130.6 474.6 L130.9 475.4 L131.3 476.8 L132.0 478.7 L132.4 480.3 L133.1 482.2 L134.0 483.5 L133.6 482.3 L134.6 485.0 L135.2 484.7 L135.4 483.8 L136.1 482.7 L136.0 481.8 L137.4 481.6 L137.7 479.3 L138.5 482.1 L139.2 484.3 L139.0 486.6 L140.0 488.1 L140.4 490.7 L141.1 487.9 L141.4 484.0 L141.8 479.1 L142.3 475.0 L142.7 477.0 L143.7 478.6 L144.1 482.7 L144.9 485.1 L145.0 485.3 L145.9 482.7 L146.5 484.0 L147.1 483.8 L147.3 483.0 L147.0 483.8 L148.7 485.8 L149.1 486.3 L149.1 488.8 L149.8 491.0 L150.4 490.9 L151.1 492.9 L151.9 492.6 L152.3 494.8 L152.6 494.1 L153.2 494.8 L153.3 498.1 L154.2 498.3 L154.5 503.1 L154.5 506.0 L155.8 509.6 L156.7 519.5 L156.4 528.4 L157.1 524.5 L158.0 519.6 L158.5 514.8 L158.3 515.0 L160.0 513.0 L160.3 511.9 L160.5 511.4 L161.3 513.8 L161.8 513.1 L161.8 513.1 L162.5 516.0 L163.1 515.8 L163.9 514.6 L164.0 513.3 L164.5 510.1 L165.5 508.4 L165.7 507.3 L166.0 505.5 L166.5 504.4 L166.7 502.2 L167.9 500.3 L167.8 499.0 L169.3 499.2 L169.3 499.4 L169.8 500.3 L170.4 501.8 L170.4 504.2 L171.3 505.9 L171.7 508.0 L173.0 509.9 L172.8 509.6 L173.4 511.1 L174.2 511.2 L174.4 511.0 L174.8 511.9 L175.8 512.8 L176.4 514.9 L176.3 514.1 L177.1 514.6 L178.0 514.8 L178.2 515.4 L178.7 514.9 L179.0 516.0 L179.9 516.0 L180.1 513.9 L181.2 513.6 L181.3 514.4 L181.7 513.4 L181.6 512.5 L182.7 511.5 L183.4 510.8 L183.1 513.3 L184.0 512.9 L184.7 513.5 L185.1 514.1 L185.9 514.8 L186.1 514.6 L186.1 515.2 L187.1 515.4 L187.6 513.5 L188.0 513.9 L188.5 513.8 L189.0 514.2 L189.5 511.9 L190.4 514.0 L190.6 511.4 L191.4 511.1 L192.3 511.0 L192.6 510.9 L192.7 508.5 L193.2 506.2 L193.9 507.9 L194.4 506.9 L195.2 505.9 L195.7 503.6 L195.9 500.0 L197.2 499.6 L197.0 498.8 L197.3 500.0 L198.0 500.9 L198.5 500.0 L199.0 500.7 L199.6 502.2 L200.0 502.8 L201.0 504.2 L201.6 505.4 L202.3 507.0 L202.2 507.3 L203.2 507.8 L203.9 509.9 L203.9 511.5 L205.2 514.2 L204.8 515.2 L206.0 516.6 L206.2 519.1 L206.8 519.3 L207.1 518.2 L207.8 516.9 L208.5 517.0 L208.8 516.0 L209.3 516.3 L210.1 516.2 L210.4 515.6 L211.0 514.3 L211.3 514.8 L212.0 514.3 L212.6 516.4 L213.1 513.6 L213.5 512.5 L213.8 511.9 L214.6 512.2 L215.0 511.4 L215.3 511.2 L216.0 511.1 L216.9 509.9 L216.8 509.8 L217.8 508.6 L217.9 507.9 L218.8 506.3 L219.4 504.7 L220.0 502.5 L220.5 500.9 L220.8 498.5 L221.3 496.7 L221.2 494.0 L222.3 491.0 L223.2 486.3 L223.1 482.9 L223.8 478.1 L224.3 480.6 L225.0 480.8 L224.9 483.6 L225.3 484.6 L225.7 484.4 L226.5 483.8 L227.3 481.7 L227.6 481.6 L228.4 479.5 L228.3 477.5 L228.9 475.6 L229.7 473.4 L230.2 472.0 L230.9 469.7 L231.2 470.3 L232.5 469.8 L232.2 468.4 L232.7 470.5 L233.1 471.9 L234.2 471.3 L234.6 473.5 L234.9 473.8 L235.4 473.6 L236.3 475.5 L236.7 474.8 L237.3 475.5 L237.7 476.6 L239.1 478.6 L239.0 479.9 L239.5 479.5 L239.3 480.7 L240.1 482.8 L240.7 482.0 L240.9 480.8 L241.6 481.8 L242.2 478.5 L242.7 478.3 L243.7 477.0 L243.3 474.9 L243.9 475.2 L245.1 473.9 L245.3 473.6 L245.6 473.8 L246.1 475.4 L246.7 475.7 L247.3 478.2 L248.2 477.0 L248.6 478.0 L248.7 476.3 L249.4 475.4 L250.3 475.8 L250.6 476.3 L251.1 475.0 L251.8 475.3 L252.0 475.6 L252.0 477.0 L252.7 473.5 L253.6 474.2 L254.0 477.0 L254.6 476.1 L255.1 475.2 L255.8 476.9 L257.0 474.0 L256.9 474.5 L257.1 473.9 L257.8 472.5 L258.4 474.1 L259.2 472.4 L259.8 470.8 L259.6 470.7 L260.6 470.4 L260.9 468.7 L261.9 470.1 L261.2 468.8 L262.5 471.8 L263.2 470.2 L264.0 469.6 L264.2 468.5 L265.3 468.1 L265.5 468.7 L265.4 470.4 L266.5 469.4 L266.7 470.0 L267.3 470.7 L267.7 467.9 L268.2 467.0 L268.3 464.6 L269.1 463.1 L269.6 459.6 L270.1 456.2 L270.7 452.3 L271.1 450.3 L271.7 446.3 L272.6 441.5 L272.6 437.0 L273.2 440.8 L273.3 441.6 L274.0 445.7 L274.8 444.8 L274.6 444.6 L275.6 442.5 L276.1 443.2 L276.7 443.6 L276.7 442.8 L277.6 445.2 L277.7 443.7 L278.7 445.3 L279.6 444.6 L280.2 446.2 L279.7 445.2 L281.1 446.4 L281.9 448.1 L281.7 451.0 L282.5 453.1 L283.1 454.4 L283.9 453.3 L283.5 456.1 L284.6 455.1 L285.1 455.1 L285.8 454.4 L285.6 454.2 L287.1 455.4 L287.6 453.1 L287.3 455.3 L288.3 452.9 L288.8 453.3 L289.8 451.2 L290.2 452.0 L290.2 454.0 L291.3 451.3 L291.6 451.4 L292.9 451.2 L292.7 451.5 L293.2 450.8 L293.5 448.9 L293.8 450.8 L294.7 449.9 L296.0 449.2 L295.8 450.0 L296.3 448.4 L296.7 448.6 L298.1 448.8 L298.0 448.8 L299.2 449.0 L298.5 446.7 L299.5 446.9 L299.7 446.2 L301.0 446.3 L300.9 445.2 L301.4 444.6 L302.2 441.7 L303.2 438.4 L303.3 438.8 L303.8 439.4 L304.8 438.3 L304.8 440.3 L304.8 442.9 L305.7 440.7 L306.8 438.4 L306.8 437.8 L307.3 438.4 L308.2 437.0 L308.1 437.3 L308.9 435.8 L309.5 435.4 L309.7 436.4 L310.3 435.0 L310.8 434.8 L311.4 435.0 L312.3 432.5 L312.7 431.0 L313.1 430.3 L313.5 428.1 L314.1 428.0 L314.2 424.9 L314.6 421.6 L315.2 419.4 L315.8 416.4 L316.6 418.7 L317.1 418.6 L317.4 419.7 L317.8 421.2 L318.1 426.7 L318.3 428.9 L319.6 430.7 L320.0 428.8 L320.3 425.3 L321.0 424.4 L322.2 423.0 L322.1 421.3 L322.4 419.3 L323.0 420.3 L323.7 417.2 L324.3 417.6 L324.5 415.5 L325.4 417.9 L326.3 415.4 L326.3 418.2 L326.5 414.4 L327.5 412.5 L327.7 411.9 L328.6 409.7 L328.9 407.4 L328.7 405.0 L329.6 404.0 L330.5 403.9 L330.5 403.0 L331.2 403.6 L331.6 402.5 L331.9 402.2 L332.4 404.3 L332.5 408.1 L333.4 409.2 L333.9 412.9 L334.3 417.9 L335.1 420.7 L335.8 418.2 L335.7 415.7 L336.6 412.1 L337.1 410.4 L337.3 409.1 L338.0 407.2 L338.3 405.5 L338.5 404.8 L339.4 404.5 L339.8 404.7 L340.5 402.9 L339.9 400.0 L341.4 397.9 L341.9 394.8 L342.0 394.9 L343.0 391.3 L343.1 387.8 L344.3 387.6 L344.6 385.6 L345.2 384.7 L345.5 378.8 L346.1 377.5 L346.7 374.0 L347.1 373.4 L347.6 373.1 L348.2 368.8 L349.4 365.7 L349.4 363.4 L349.6 360.4 L349.6 359.1 L350.7 357.2 L351.5 354.3 L352.0 350.8 L352.6 349.2 L353.5 351.9 L353.4 354.6 L353.9 357.1 L354.7 355.9 L355.1 355.7 L355.7 353.1 L356.0 355.4 L356.8 356.1 L357.2 358.5 L358.1 357.7 L358.3 357.1 L358.8 356.9 L359.0 361.5 L359.3 367.1 L359.8 372.4 L360.9 367.5 L361.1 360.1 L361.1 354.8 L361.7 353.4 L361.5 352.5 L362.5 350.0 L363.7 349.2 L363.3 348.2 L363.7 347.8 L365.4 343.0 L365.1 341.5 L365.5 339.4 L365.8 337.2 L366.9 336.1 L367.1 333.4 L367.6 325.4 L368.3 320.6 L368.5 318.3 L369.4 318.6 L369.6 317.3 L370.9 314.7 L370.7 313.8 L371.2 316.9 L371.5 316.8 L372.3 319.1 L372.4 320.5 L373.2 321.6 L373.8 324.8 L373.9 326.1 L374.7 329.9 L375.0 330.9 L375.5 330.3 L376.0 328.9 L376.1 327.2 L376.7 326.7 L377.3 324.5 L377.5 322.8 L377.8 320.2 L378.1 319.3 L378.9 315.7 L379.5 313.4 L379.8 311.4 L380.3 309.4 L380.9 305.6 L381.3 304.4 L381.7 300.7 L382.5 299.7 L382.9 299.9 L382.7 296.9 L384.0 296.3 L384.2 293.3 L385.1 288.4 L385.6 288.0 L386.3 294.0 L386.6 298.3 L387.4 290.8 L387.3 285.7 L387.6 282.4 L388.1 280.1 L388.7 276.4 L389.2 273.7 L389.9 271.6 L390.2 268.2 L390.4 261.6 L390.4 260.5 L391.3 255.4 L391.5 249.0 L392.0 245.9 L392.8 240.8 L392.6 235.8 L393.4 231.4 L393.8 227.2 L394.2 225.1 L394.9 222.9 L395.1 227.2 L395.6 231.4 L395.9 235.3 L396.7 235.0 L396.7 239.7 L397.3 242.8 L398.2 238.7 L398.2 235.3 L398.5 231.1 L398.9 234.8 L399.1 237.6 L399.7 240.4 L400.0 243.3 L401.0 247.2 L401.0 250.5 L401.8 253.0 L402.1 256.1 L402.3 257.5 L402.6 256.5 L403.2 256.5 L403.7 255.3 L403.9 257.7 L404.0 261.4 L404.7 264.0 L405.2 267.1 L405.8 271.7 L406.0 275.7 L407.0 282.3 L407.0 285.3 L407.7 277.7 L408.1 270.8 L409.5 264.9 L409.2 264.6 L409.4 260.2 L409.7 260.9 L410.3 260.6 L410.7 259.8 L410.6 259.7 L411.6 258.8 L412.1 256.6 L412.6 259.0 L413.1 262.6 L413.4 265.0 L413.9 269.4 L414.3 270.3 L414.5 273.1 L414.8 275.3 L415.6 277.0 L416.1 279.2 L416.7 281.6 L417.4 284.8 L417.7 286.0 L417.8 287.5 L419.0 289.1 L419.2 291.9 L420.2 288.6 L420.6 286.1 L420.9 283.2 L420.8 279.8 L421.7 279.1 L422.4 275.7 L422.9 274.6 L423.1 271.2 L423.9 270.6 L424.4 269.8 L424.8 267.4 L425.2 267.1 L426.1 268.4 L426.4 272.4 L426.7 273.1 L427.1 274.7 L428.0 276.6 L428.5 278.3 L428.4 278.5 L429.7 281.9 L429.9 281.6 L430.3 282.2 L431.2 284.7 L431.2 285.4 L431.8 285.4 L432.0 285.3 L432.5 283.0 L433.8 286.7 L433.8 288.6 L434.2 290.0 L435.5 292.0 L435.2 294.9 L436.0 296.0 L436.1 296.7 L437.2 296.3 L437.4 297.3 L438.0 298.0 L438.7 294.2 L438.9 293.6 L439.8 293.2 L440.2 289.9 L440.4 288.5 L440.8 287.2 L441.7 284.7 L441.9 282.7 L442.7 280.6 L443.5 279.3 L443.4 278.7 L443.9 280.4 L444.7 282.3 L445.3 285.0 L445.1 288.2 L445.9 288.2 L446.5 290.6 L446.9 293.0 L448.2 293.6 L448.3 296.1 L448.9 294.5 L449.4 295.6 L449.6 293.0 L449.7 291.3 L450.7 290.8 L451.0 289.4 L451.3 288.8 L452.3 287.4 L452.6 285.9 L453.0 286.9 L453.8 289.5 L454.1 291.4 L454.8 291.4 L455.1 293.2 L455.8 294.9 L456.1 292.8 L456.5 291.1 L457.2 291.8 L457.6 292.4 L458.0 291.9 L458.6 292.9 L459.2 292.3 L460.4 295.1 L460.3 295.1 L461.1 294.7 L461.3 293.3 L461.6 292.1 L461.6 294.4 L462.6 294.2 L463.2 294.4 L463.3 294.2 L463.6 293.6 L464.7 293.8 L464.9 294.5 L466.0 295.8 L466.2 294.7 L466.5 294.6 L467.1 293.9 L467.9 293.9 L468.3 295.9 L468.6 296.6 L469.0 296.9 L469.3 302.9 L470.2 310.9 L471.1 316.4 L471.2 321.3 L471.6 323.2 L471.8 326.6 L472.5 328.1 L473.3 327.5 L472.7 325.0 L473.8 322.3 L474.8 327.1 L474.7 329.0 L475.0 333.1 L475.7 335.0 L475.3 337.2 L476.3 338.7 L476.5 337.5 L476.9 332.9 L477.5 331.5 L478.1 329.5 L478.7 327.0 L479.0 325.5 L479.1 325.5 L479.9 325.8 L480.3 326.6 L481.0 327.6 L481.3 330.2 L481.9 331.2 L482.4 332.0 L482.9 331.4 L483.1 332.9 L483.9 333.6 L484.1 332.9 L484.7 334.9 L485.9 335.3 L485.6 334.5 L486.5 334.8 L486.1 335.8 L487.1 336.5 L487.6 335.6 L487.8 334.4 L489.0 332.3 L489.0 330.8 L489.3 330.1 L490.2 327.6 L490.6 325.8 L491.0 326.1 L491.6 328.0 L492.2 328.7 L492.3 328.5 L493.6 327.0 L493.6 326.0 L493.9 326.5 L494.6 327.4 L495.2 327.3 L495.2 327.6 L496.1 325.2 L496.7 324.3 L497.4 325.9 L497.1 324.3 L498.0 322.1 L498.6 321.7 L499.3 319.6 L499.9 318.8 L500.5 317.2 L501.1 312.0 L501.0 311.0 L501.6 310.3 L502.5 309.2 L502.8 307.9 L502.9 309.1 L503.5 308.8 L504.3 306.9 L504.2 306.3 L505.5 304.9 L505.7 304.4 L506.2 301.7 L506.5 298.1 L507.4 296.0 L507.9 290.2 L508.0 290.0 L508.6 286.2 L509.8 284.5 L508.9 282.9 L510.2 279.4 L511.2 278.5 L511.8 277.2 L511.7 275.0 L512.5 274.5 L512.7 274.8 L513.5 276.5 L513.8 279.1 L514.1 282.9 L514.4 282.9 L514.7 279.0 L515.5 277.1 L515.3 274.5 L516.7 271.3 L516.6 267.7 L516.8 263.8 L517.0 260.4 L517.8 258.1 L517.9 253.0 L518.4 251.4 L519.1 249.2 L519.1 252.0 L519.8 253.5 L520.3 256.6 L520.8 253.9 L521.0 254.0 L521.7 249.8 L522.3 252.9 L523.0 258.0 L522.7 260.5 L523.6 263.6 L523.8 265.0 L524.2 265.4 L524.9 261.3 L524.8 259.9 L525.3 258.1 L525.7 257.4 L526.7 257.5 L526.7 254.4 L527.0 256.7 L527.4 257.5 L527.9 261.5 L527.8 260.1 L528.6 257.3 L529.3 256.5 L529.6 261.6 L530.1 262.3 L530.7 264.4 L531.1 263.6 L531.1 262.6 L531.7 262.1 L531.8 264.8 L533.1 265.5 L533.0 266.6 L533.6 266.9 L533.7 263.5 L534.2 263.1 L534.7 263.5 L535.6 263.6 L535.5 265.3 L536.4 264.8 L537.0 263.5 L536.9 263.7 L536.8 262.2 L537.7 263.6 L538.2 264.5 L538.5 268.5 L538.3 272.2 L539.1 276.0 L539.5 275.1 L539.8 277.8 L540.6 279.3 L541.1 279.1 L541.4 277.3 L541.8 277.3 L541.6 277.2 L543.3 278.0 L543.1 278.4 L543.9 281.0 L543.6 282.7 L544.4 282.8 L544.9 281.2 L545.4 276.8 L545.8 276.3 L546.2 276.3 L547.0 272.4 L546.6 270.9 L547.4 268.8 L548.3 269.3 L548.3 269.9 L548.5 270.7 L548.9 273.4 L549.4 274.6 L549.9 277.2 L549.3 277.9 L550.5 280.2 L550.6 283.0 L551.7 283.5 L552.1 286.0 L552.8 285.7 L553.1 284.4 L553.1 284.0 L553.8 285.7 L553.8 285.9 L554.2 286.5 L555.4 285.6 L554.8 286.2 L555.7 287.6 L555.9 287.1 L556.5 285.4 L557.0 285.2 L557.1 288.3 L557.7 288.4 L558.1 289.3 L558.6 288.3 L559.8 288.1 L559.6 285.3 L559.7 283.7 L560.5 282.1 L560.7 282.4 L560.9 280.9 L561.2 279.1 L561.8 278.1 L562.8 278.9 L562.7 275.1 L563.3 274.2 L564.3 275.0 L563.5 274.8 L564.6 275.7 L565.2 273.6 L565.1 272.9 L565.6 271.8 L566.8 270.6 L566.8 271.2 L567.1 269.3 L567.5 267.4 L567.7 267.0 L568.2 267.4 L568.8 266.0 L569.1 266.0 L569.6 264.4 L569.8 264.1 L570.8 263.3 L571.0 263.9 L571.1 266.6 L571.4 265.1 L572.3 266.6 L572.2 267.3 L573.0 267.8 L573.6 270.7 L573.8 272.5 L575.1 273.9 L574.8 276.2 L575.0 280.4 L575.4 285.7 L575.6 292.5 L576.0 299.0 L576.8 305.9 L577.1 312.6 L577.5 309.3 L578.1 306.4 L578.7 302.1 L579.0 297.9 L579.8 293.9 L580.1 293.1 L580.3 293.1 L581.2 292.3 L582.0 290.4 L581.5 290.7 L582.3 289.4 L582.4 289.3 L583.2 287.5 L583.7 287.1 L584.2 288.2 L584.0 287.0 L584.7 287.9 L585.7 287.1 L585.3 285.8 L586.3 283.2 L586.6 281.7 L586.4 278.6 L587.2 278.0 L587.7 277.0 L588.9 273.3 L588.3 273.2 L589.2 273.4 L589.4 270.5 L589.5 269.5 L590.3 269.4 L590.5 268.3 L591.2 266.6 L591.9 265.1 L591.4 270.4 L592.2 270.5 L592.3 268.8 L593.2 266.9 L593.6 266.7 L593.8 267.1 L594.9 267.9 L594.8 265.0 L595.4 266.5 L596.2 267.2 L596.4 269.2 L597.1 268.2 L597.2 268.9 L597.4 268.2 L597.7 267.6 L598.1 268.3 L598.7 269.2 L599.0 270.0 L599.8 268.6 L599.8 270.3 L600.3 271.4 L600.8 271.5 L601.2 271.2 L601.8 271.3 L601.9 271.1 L602.4 271.1 L603.0 271.9 L603.6 272.2 L603.5 272.1 L604.5 271.2 L604.4 270.9 L605.0 270.6 L605.3 267.7 L605.6 266.0 L606.1 264.5 L606.7 261.8 L607.2 259.7 L607.4 257.0 L608.1 254.1 L608.2 257.3 L608.8 255.4 L609.1 254.3 L609.7 254.2 L610.2 254.2 L610.2 254.2 L610.9 254.6 L611.2 256.7 L611.4 256.4 L612.7 253.8 L612.4 254.2 L613.0 255.5 L613.4 254.2 L613.8 255.8 L614.7 256.6 L614.5 257.2 L614.9 259.4 L615.6 261.5 L616.0 263.5 L616.1 265.0 L616.5 263.5 L617.3 263.5 L617.7 262.6 L618.0 263.6 L618.6 261.0 L618.7 261.9 L619.1 261.6 L619.8 261.4 L620.1 263.4 L620.5 261.6 L621.5 261.3 L621.4 260.3 L622.1 260.7 L622.3 260.6 L622.7 261.6 L623.0 259.7 L623.7 261.1 L624.2 258.9 L624.2 258.8 L624.4 257.3 L625.3 257.3 L625.2 257.2 L625.3 253.4 L626.3 253.7 L626.3 251.9 L627.0 252.1 L627.8 250.5 L627.9 247.6 L628.0 247.3 L628.8 243.9 L629.1 242.2 L629.6 240.9 L630.1 239.4 L630.8 237.2 L630.8 234.8 L631.4 233.9 L631.6 233.4 L632.5 230.1 L632.6 229.9 L633.4 228.2 L633.6 227.5 L633.9 225.2 L634.9 227.7 L635.3 227.0 L635.3 224.4 L636.5 223.3 L636.4 223.0 L637.2 222.7 L637.7 223.5 L637.8 224.5 L638.6 219.5 L638.3 215.7 L638.6 211.0 L639.6 210.2 L639.4 211.4 L640.3 208.8 L640.5 204.9 L640.8 200.2 L641.3 195.9 L641.9 191.1 L641.9 186.6 L642.7 183.2 L643.3 180.8 L643.5 178.8 L643.8 174.8 L644.6 176.6 L644.6 179.4 L645.2 180.1 L645.1 181.6 L645.9 185.3 L646.5 187.3 L646.9 188.9 L647.2 188.9 L647.8 190.8 L648.5 186.7 L648.2 182.2 L649.1 180.9 L649.8 178.3 L649.5 171.4 L650.3 168.1 L650.5 167.0 L650.9 164.0 L651.4 163.0 L652.2 159.1 L652.0 155.3 L652.9 151.8 L653.1 153.8 L653.3 156.1 L653.9 160.1 L655.1 161.1 L654.8 164.0 L655.3 164.4 L655.1 161.8 L655.8 159.0 L656.6 156.5 L656.2 150.4 L657.9 151.1 L657.7 148.2 L658.5 148.7 L658.0 150.2 L659.0 151.9 L659.0 152.8 L660.3 153.1 L660.4 155.2 L660.8 154.8 L661.1 151.2 L661.7 149.4 L662.6 150.3 L662.9 151.2 L662.9 151.3 L663.1 151.0 L663.7 147.8 L664.2 147.7 L664.4 148.5 L664.9 145.2 L665.4 145.1 L666.0 148.4 L666.2 149.9 L666.7 152.0 L667.1 155.3 L667.7 155.8 L667.7 158.7 L668.0 155.8 L668.6 151.4 L669.0 150.7 L670.2 150.4 L669.9 152.3 L670.5 151.9 L670.6 153.6 L671.1 157.8 L671.7 159.1 L672.1 162.4 L672.2 170.1 L673.1 173.1 L673.4 176.4 L673.9 179.5 L674.1 181.9 L674.1 179.8 L675.0 178.7 L675.3 176.6 L675.3 178.5 L676.0 181.6 L676.7 183.5 L677.4 181.2 L677.5 178.9 L678.1 174.9 L678.0 177.9 L679.0 180.5 L679.3 184.7 L680.1 185.9 L680.1 185.8 L680.5 186.9 L681.0 185.6 L681.4 184.0 L681.8 183.5 L682.0 184.5 L683.2 184.1 L683.2 185.6 L682.7 184.7 L683.8 187.3 L684.4 187.4 L684.5 189.6 L685.4 190.4 L685.5 190.8 L685.9 191.7 L686.0 191.1 L687.0 192.0 L687.1 188.6 L687.6 184.9 L688.1 183.5 L688.9 180.7 L688.8 176.4 L689.4 174.6 L689.8 171.2 L690.6 170.5 L690.7 167.7 L690.2 167.2 L691.5 166.1 L692.1 163.6 L692.4 163.8 L693.1 164.7 L693.2 161.4 L694.0 163.7 L694.0 163.9 L694.4 163.4 L695.1 161.9 L695.5 161.1 L695.7 160.4 L696.3 161.5 L696.1 159.7 L697.1 157.7 L697.2 158.5 L698.2 161.8 L698.2 163.6 L698.7 163.4 L699.4 161.0 L699.7 162.0 L700.1 165.2 L700.2 167.3 L700.8 170.1 L701.5 169.8 L701.4 171.8 L701.8 171.9 L702.2 167.1 L702.6 162.9 L703.2 160.4 L703.3 157.1 L704.3 153.6 L704.7 152.7 L704.8 150.1 L705.8 150.1 L705.9 148.2 L706.4 144.8 L705.9 146.1 L707.3 142.9 L707.6 142.2 L708.1 145.4 L708.4 144.1 L709.0 143.0 L709.4 142.2 L709.6 141.2 L709.3 142.5 L710.3 144.0 L710.7 143.8 L711.0 142.7 L712.2 142.1 L712.0 140.1 L712.4 141.4 L712.3 143.2 L713.4 144.2 L713.3 145.6 L714.6 149.1 L714.7 150.5 L715.1 150.7 L715.1 150.2 L715.6 149.4 L716.8 151.8 L716.5 153.5 L717.2 154.1 L717.7 155.5 L718.5 158.3 L718.3 160.3 L719.2 161.8 L718.8 161.8 L719.5 162.5 L719.8 161.8 L720.1 160.4 L721.0 159.1 L721.7 158.6 L721.5 160.1 L722.2 160.3 L722.4 160.9 L722.4 163.2 L723.6 165.1 L724.6 167.0 L724.3 168.3 L724.8 169.3 L724.9 171.0 L725.5 171.7 L726.2 170.2 L726.6 170.9 L727.1 171.0 L727.4 172.9 L727.4 174.6 L728.2 178.1 L728.5 181.5 L728.8 181.0 L729.4 180.4 L729.9 178.8 L729.9 177.1 L730.4 178.4 L731.1 175.5 L731.4 172.5 L731.8 170.3 L732.4 167.6 L732.9 168.4 L732.9 168.9 L733.5 169.7 L733.7 173.1 L734.4 174.5 L734.9 179.0 L735.4 176.9 L735.5 176.6 L736.0 173.6 L736.3 172.6 L737.4 170.7 L737.3 169.2 L738.1 171.8 L738.4 175.9 L738.6 176.8 L738.8 174.6 L739.6 175.2 L739.7 173.2 L740.1 171.7 L740.7 171.9 L741.1 169.3 L741.6 168.0 L742.1 166.3 L742.5 165.5 L743.0 165.6 L743.2 164.2 L743.5 163.4 L743.3 165.1 L744.8 167.8 L745.2 168.1 L745.4 168.3 L745.6 171.5 L746.3 173.6 L746.3 173.1 L747.0 172.4 L747.3 172.0 L748.2 172.1 L748.3 174.4 L748.4 175.6 L748.6 177.3 L749.7 175.3 L750.1 177.4 L750.1 177.6 L750.9 179.9 L751.4 180.0 L751.8 183.1 L752.3 189.3 L752.6 193.3 L752.6 194.4 L753.8 194.4 L753.8 195.1 L753.6 194.0 L754.7 192.5 L755.1 191.0 L755.3 194.0 L755.9 193.4 L756.1 194.9 L756.8 192.8 L757.2 190.6 L757.6 190.7 L757.9 191.4 L758.4 194.4 L758.9 195.4 L759.3 200.7 L759.8 205.9 L760.0 211.0 L760.5 215.5 L761.0 218.6 L761.3 221.9 L761.3 220.9 L762.1 218.7 L762.5 217.5 L763.2 218.6 L763.2 218.7 L763.9 220.9 L764.3 221.0 L764.5 218.4 L765.3 217.3 L765.4 217.6 L765.9 219.5 L766.3 218.4 L766.7 217.8 L766.5 213.5 L767.6 213.6 L768.2 212.6 L768.9 212.3 L768.9 209.3 L769.6 209.4 L769.9 209.2 L770.3 210.3 L770.1 211.1 L770.8 209.3 L771.5 207.8 L772.2 208.1 L772.8 209.7 L772.8 209.5 L773.0 209.0 L773.5 208.9 L774.0 207.0 L774.7 207.2 L774.3 211.2 L775.2 211.0 L775.9 212.4 L776.1 216.7 L776.7 217.1 L776.7 217.8 L777.6 218.4 L777.7 219.8 L778.3 220.0 L779.1 221.4 L778.9 222.3 L779.6 220.1 L780.2 214.8 L779.8 217.0 L781.3 219.0 L781.3 221.5 L781.9 221.7 L782.3 224.7 L782.5 223.7 L782.9 222.0 L783.2 221.1 L783.7 219.7 L784.5 221.7 L784.6 221.4 L785.2 222.7 L784.7 221.5 L786.2 219.9 L786.3 221.1 L787.0 219.1 L787.3 219.2 L787.6 219.8 L788.2 219.7 L788.3 220.3 L789.1 222.3 L789.4 220.3 L789.0 219.6 L790.1 217.0 L790.9 216.7 L791.2 216.9 L791.4 217.7 L792.3 219.8 L792.3 222.4 L792.6 223.0 L793.2 228.6 L793.5 233.8 L794.1 232.0 L794.3 232.9 L794.8 231.2 L795.3 231.7 L795.4 233.8 L795.9 233.7 L795.8 231.9 L797.6 232.3 L797.5 231.1 L797.6 231.7 L798.0 231.2 L798.6 229.2 L798.9 230.6 L799.7 232.3 L799.8 232.4 L799.9 232.0 L800.4 231.5 L801.2 230.1 L800.9 231.3 L801.8 230.2 L802.3 231.0 L802.8 230.7 L803.2 232.5 L803.5 230.0 L803.9 230.6 L804.0 232.2 L804.7 232.4 L805.5 229.7 L805.8 229.8 L806.3 229.3 L806.6 225.7 L806.9 222.4 L807.4 219.3 L808.1 217.4 L807.9 216.5 L808.6 212.4 L809.0 212.6 L810.2 212.2 L810.1 210.5 L810.3 209.7 L810.8 207.7 L811.0 207.9 L811.9 210.5 L812.7 209.2 L812.3 210.7 L813.3 213.2 L813.4 212.6 L813.8 213.0 L814.4 211.4 L814.4 209.7 L815.0 208.8 L814.9 207.4 L816.2 207.1 L816.0 206.3 L816.7 207.4 L817.0 209.9 L817.6 209.7 L817.7 208.2 L818.6 208.1 L818.8 208.3 L819.7 213.5 L819.6 220.1 L820.2 216.1 L820.4 211.1 L820.9 209.4 L821.4 204.0 L821.6 200.9 L821.7 201.1 L822.0 200.1 L823.1 197.9 L823.4 196.7 L824.3 197.8 L824.4 197.8 L825.0 197.7 L824.6 198.1 L825.4 197.4 L826.3 198.3 L827.0 194.0 L826.9 193.0 L827.1 193.1 L827.2 195.3 L828.2 196.1 L828.8 196.9 L829.2 195.4 L829.2 194.4 L829.4 197.2 L830.4 196.7 L830.4 198.4 L830.8 197.0 L831.2 195.6 L831.8 196.2 L832.0 197.4 L832.9 198.3 L833.1 199.8 L833.9 199.0 L833.5 198.5 L834.4 198.7 L834.6 197.9 L835.6 198.8 L835.6 197.3 L836.6 199.1 L836.7 199.1 L836.8 200.2 L837.3 201.1 L838.0 199.1 L838.2 199.9 L838.5 200.2 L839.1 201.2 L839.4 202.3 L840.2 203.3 L840.7 203.2 L841.0 202.9 L841.0 201.9 L841.8 202.2 L841.7 201.0 L842.0 198.1 L842.6 196.7 L843.1 192.5 L843.3 192.8 L843.5 192.1 L844.6 190.8 L844.6 191.3 L845.6 191.0 L845.8 192.4 L846.1 193.6 L846.5 193.8 L847.1 194.5 L848.1 193.4 L847.7 194.5 L848.4 193.9 L848.3 194.1 L849.1 194.3 L849.3 194.4 L850.0 193.8 L850.6 194.5 L850.8 194.2 L851.3 194.4 L852.1 195.7 L852.0 196.1 L852.0 195.9 L853.0 195.6 L853.2 195.5 L853.8 195.9 L853.8 196.1 L854.5 196.2 L854.9 196.1 L855.9 199.5 L855.7 199.6 L856.4 200.2 L856.7 202.6 L857.2 202.1 L857.3 202.2 L858.2 201.2 L858.3 200.8 L858.9 201.2 L859.6 203.9 L859.5 203.3 L860.2 204.3 L860.9 201.3 L860.8 202.0 L860.9 202.6 L862.1 202.1 L862.2 203.4 L862.7 203.8 L863.1 201.7 L863.4 201.5 L864.4 201.0 L863.9 203.1 L864.9 202.3 L864.6 200.1 L865.3 201.2 L866.1 199.1 L866.5 200.0 L866.8 201.6 L867.4 200.6 L867.6 201.0 L867.6 199.0 L868.3 198.7 L868.2 198.4 L868.9 195.9 L869.8 193.0 L870.3 191.0 L870.5 187.4 L871.0 185.7 L871.3 185.3 L871.8 182.5 L872.1 181.4 L872.5 182.7 L872.9 182.0 L873.5 180.4 L873.9 180.8 L874.8 180.2 L874.8 179.5 L875.4 179.2 L875.6 179.7 L876.1 180.6 L876.7 180.4 L877.0 179.2 L877.1 178.9 L877.9 177.8 L878.1 179.2 L878.5 178.6 L879.1 177.8 L879.3 174.5 L879.7 171.7 L879.6 170.7 L880.3 170.6 L881.1 168.6 L881.4 167.9 L882.2 169.3 L882.4 169.1 L882.7 170.4 L883.0 170.6 L883.4 170.5 L884.2 168.6 L884.6 168.6 L884.9 166.7 L884.8 168.5 L885.3 167.6 L886.1 169.4 L886.8 169.8 L887.0 164.5 L887.5 165.5 L887.3 164.2 L888.4 163.8 L888.7 164.2 L888.7 168.1 L889.5 168.1 L889.8 170.9 L890.0 170.2 L891.0 171.1 L891.3 170.1 L891.8 171.5 L892.0 173.4 L892.4 174.4 L892.9 172.6 L893.3 171.3 L893.9 168.2 L893.7 166.8 L894.1 168.6 L895.1 165.4 L895.2 162.9 L895.7 160.6 L895.9 157.7 L896.2 156.0 L896.8 155.0 L897.5 154.5 L898.4 154.5 L897.7 157.7 L898.9 156.4 L899.1 152.7 L899.5 148.0 L900.0 144.5 L900.2 141.9 L901.1 139.5 L901.2 137.7 L901.7 137.1 L902.9 135.0 L902.7 135.6 L902.4 136.4 L903.2 139.6 L904.0 141.3 L903.7 139.3 L904.7 140.8 L905.2 137.4 L905.3 138.0 L905.8 139.3 L906.2 141.1 L906.3 138.3 L906.8 137.8 L907.7 136.6 L907.9 138.8 L908.2 137.6 L908.9 137.7 L909.0 137.8 L909.4 140.4 L910.1 142.7 L911.4 142.2 L910.7 143.2 L911.2 141.5 L911.8 143.1 L912.2 144.8 L912.6 145.9 L913.1 146.3 L913.4 147.3 L913.9 148.2 L914.5 147.0 L914.6 145.1 L915.3 144.6 L916.0 144.3 L916.4 144.7 L916.4 145.7 L916.6 143.8 L917.0 140.8 L917.7 139.4 L918.1 138.0 L918.4 136.5 L919.1 136.2 L919.2 137.4 L920.2 136.7 L920.1 137.3 L920.8 136.9 L921.1 137.6 L921.9 138.3 L922.7 140.4 L922.6 138.0 L922.8 140.0 L924.0 140.2 L924.0 141.2 L924.8 143.4 L925.4 144.5 L925.7 145.5 L926.0 147.7 L926.5 147.3 L926.9 148.1 L927.2 149.2 L927.6 149.2 L928.2 150.8 L928.2 149.5 L929.1 145.5 L929.4 144.3 L929.9 144.8 L930.4 139.7 L931.0 140.0 L931.2 140.1 L931.7 142.8 L931.9 142.0 L932.7 142.2 L933.0 141.7 L933.3 144.4 L933.9 147.1 L933.8 150.7 L934.6 152.4 L935.2 150.6 L935.8 149.5 L936.0 148.0 L935.7 147.6 L937.1 146.2 L937.3 146.9 L937.5 146.2 L938.5 147.8 L938.4 144.1 L938.2 146.4 L939.7 146.7 L939.9 150.0 L940.3 150.0 L940.5 152.4 L941.0 153.1 L940.5 150.4 L942.3 150.4 L942.1 149.1 L942.3 148.8 L942.9 148.1 L943.3 146.8 L944.1 146.3 L944.2 146.5 L944.7 144.0 L944.8 144.3 L946.3 143.1 L945.8 142.3 L946.0 142.8 L947.6 143.3 L947.2 145.7 L947.4 145.2 L948.3 145.8 L948.6 143.2 L949.2 143.3 L949.2 139.9 L949.7 141.4 L949.9 139.4 L950.5 139.6 L951.2 138.0 L951.8 137.8 L952.0 139.5 L952.3 139.8 L953.3 138.7 L953.3 137.7 L953.5 136.8 L953.7 137.0 L954.8 136.9 L954.8 135.9 L955.1 131.6 L955.4 132.3 L956.1 127.1 L956.2 124.6 L956.9 120.6 L957.4 119.3 L957.6 118.7 L958.3 115.6 L958.3 115.4 L959.3 116.9 L959.5 117.4 L959.7 116.9 L960.7 114.6 L960.1 114.3 L961.1 113.9 L961.2 114.2 L962.0 115.5 L962.4 115.9 L962.9 115.6 L963.1 112.9 L963.7 111.9 L964.1 111.1 L964.5 112.5 L964.9 113.7 L965.2 116.8 L965.7 117.5 L966.2 116.4 L966.2 117.6 L967.5 114.5 L967.5 114.1 L968.0 113.1 L968.2 114.2 L968.5 117.0 L969.8 114.4 L969.7 114.2 L970.0 111.9 L970.0 113.7 L970.8 114.5 L971.2 113.9 L971.7 111.4 L972.6 111.5 L972.7 111.4 L973.7 112.1 L973.4 111.1 L973.7 109.8 L973.9 111.0 L974.4 111.9 L975.1 112.8 L975.5 113.8 L976.2 114.8 L976.2 115.2 L976.5 114.4 L977.1 114.6 L977.3 114.3 L977.7 113.9 L978.4 116.3 L978.9 117.0 L978.8 117.3 L979.7 117.4 L980.1 118.5 L980.7 121.7 L981.2 123.2 L981.5 122.9 L982.2 123.7 L982.1 123.3 L982.6 126.4 L983.0 124.8 L983.3 125.0 L983.9 123.1 L983.6 124.3 L984.3 124.5 L985.4 128.2 L985.3 126.9 L986.1 126.3 L986.4 123.9 L986.6 125.0 L987.5 125.9 L987.7 127.0 L987.9 127.0 L988.9 129.4 L989.0 129.9 L989.2 128.0 L989.8 129.4 L990.2 127.4 L990.5 124.2 L991.5 124.7 L991.6 123.0 L991.7 122.9 L992.5 120.8 L992.8 118.6 L992.8 118.6 L993.4 116.8 L993.9 116.4 L994.3 117.9 L995.2 117.0 L995.3 118.0 L995.8 115.1 L996.2 114.9 L996.6 114.0 L997.3 112.8 L997.3 111.4 L997.9 110.1 L998.7 109.9 L998.7 109.6 L999.1 107.4 L999.4 109.2 L1000.2 107.9 L1000.2 109.7 L1000.5 107.0 L1001.4 110.3 L1001.6 107.8 L1001.9 108.2 L1002.3 112.5 L1002.7 111.6 L1003.5 110.9 L1003.8 109.7 L1004.1 109.2 L1004.6 109.8 L1005.6 110.0 L1005.2 111.9 L1005.5 112.8 L1006.2 110.2 L1006.7 108.9 L1007.0 108.9 L1006.9 107.8 L1008.0 107.8 L1008.1 107.3 L1008.4 105.6 L1009.0 105.4 L1009.5 104.4 L1010.0 104.6 L1010.5 102.6 L1011.8 104.0 L1011.4 102.7 L1011.8 103.6 L1012.7 104.3 L1013.1 103.0 L1012.9 101.1 L1013.9 102.1 L1014.3 102.7 L1013.9 102.4 L1014.5 104.0 L1015.5 102.7 L1015.5 102.1 L1015.7 102.4 L1016.4 104.0 L1016.8 102.5 L1016.4 102.9 L1017.4 99.4 L1017.8 100.8 L1018.9 99.8 L1019.1 100.3 L1019.3 102.5 L1019.6 104.5 L1019.9 106.2 L1020.3 106.5 L1020.5 105.6 L1021.5 105.4 L1021.6 103.9 L1022.1 104.8 L1022.3 103.2 L1022.9 105.3 L1023.7 105.6 L1023.9 103.3 L1024.4 103.2 L1024.7 104.4 L1025.0 105.1 L1025.5 105.4 L1026.0 105.0 L1025.9 104.3 L1026.5 104.1 L1027.0 103.6 L1027.6 103.0 L1027.9 102.9 L1028.6 100.1 L1028.8 102.3 L1029.4 99.7 L1029.5 101.5 L1030.3 99.9 L1030.5 103.6 L1031.0 104.0 L1031.2 106.6 L1031.7 107.6 L1032.0 107.5 L1033.1 104.9 L1032.6 105.1 L1033.6 106.9 L1033.6 107.4 L1034.2 109.4 L1034.8 109.7 L1035.7 108.3 L1035.3 108.1 L1036.3 110.0 L1037.2 111.2 L1037.0 111.9 L1037.1 112.8 L1037.6 113.8 L1038.1 115.7 L1038.7 117.5 L1038.3 117.1 L1039.5 119.2 L1039.5 120.6 L1040.5 122.3 L1040.5 124.4 L1040.9 123.1 L1041.7 121.5 L1042.0 120.5 L1042.7 120.0 L1041.9 120.6 L1043.3 122.9 L1043.9 122.2 L1044.4 122.5 L1044.4 120.4 L1044.8 119.9 L1045.5 121.6 L1045.3 121.1 L1046.0 120.3 L1046.6 120.8 L1047.1 119.2 L1047.4 119.4 L1048.4 122.0 L1048.1 122.3 L1048.4 121.9 L1048.7 120.0 L1049.3 118.8 L1049.3 117.9 L1050.1 116.9 L1050.5 116.9 L1051.3 117.2 L1051.6 118.2 L1052.1 118.1 L1052.6 119.6 L1053.5 121.6 L1053.3 121.8 L1053.5 122.1 L1053.8 120.9 L1054.5 120.6 L1054.9 122.0 L1055.4 122.3 L1055.7 124.0 L1056.1 124.1 L1056.5 130.0 L1057.1 137.4 L1057.9 139.2 L1058.6 135.7 L1058.7 138.4 L1059.4 140.6 L1059.8 138.4 L1060.5 139.4 L1060.7 138.6 L1061.0 137.9 L1062.1 137.3 L1062.5 137.4 L1062.2 140.9 L1063.5 139.0 L1064.1 141.6 L1064.3 141.0 L1064.9 138.5 L1065.1 136.8 L1065.8 134.0 L1066.0 133.4 L1066.6 133.9 L1067.3 138.0 L1067.7 139.8 L1068.4 140.9" fill="none" stroke="#0d0d0d" stroke-width="1.4" stroke-linejoin="round"/>
<rect x="380.4" y="276" width="14.5" height="40" fill="rgba(244,211,98,0.64)"/>
<rect x="487.6" y="295.8" width="14.6" height="39.6" fill="rgba(244,211,98,0.64)"/>
<rect x="514.8" y="240.3" width="23.2" height="34.8" fill="rgba(244,211,98,0.64)"/>
<rect x="616.3" y="244.8" width="17.1" height="24.5" fill="rgba(244,211,98,0.64)"/>
<rect x="825.5" y="192.1" width="19.7" height="25.2" fill="rgba(244,211,98,0.64)"/>
<rect x="1056.3" y="127.5" width="18.2" height="24.5" fill="rgba(243,222,125,0.68)"/>
<path d="M380.5 331.3 L386 326.1 L391.5 331.3" fill="none" stroke="#8e8e8e" stroke-width="2.9" stroke-linejoin="miter"/>
<line x1="386" x2="386" y1="332.3" y2="398.5" stroke="#858585" stroke-width="2.7" stroke-dasharray="2.5 2.6"/>
<path d="M488.6 351.5 L494.1 346.3 L499.6 351.5" fill="none" stroke="#8e8e8e" stroke-width="2.9" stroke-linejoin="miter"/>
<line x1="494.1" x2="494.1" y1="352.5" y2="392" stroke="#858585" stroke-width="2.7" stroke-dasharray="2.5 2.6"/>
<path d="M523.6 296.3 L529.1 291.1 L534.6 296.3" fill="none" stroke="#8e8e8e" stroke-width="2.9" stroke-linejoin="miter"/>
<line x1="529.1" x2="529.1" y1="297.3" y2="383.5" stroke="#858585" stroke-width="2.7" stroke-dasharray="2.5 2.6"/>
<path d="M619.0 279.2 L624.5 274.0 L630.0 279.2" fill="none" stroke="#8e8e8e" stroke-width="2.9" stroke-linejoin="miter"/>
<line x1="624.5" x2="624.5" y1="280.2" y2="427.7" stroke="#858585" stroke-width="2.7" stroke-dasharray="2.5 2.6"/>
<path d="M829.7 230.5 L835.2 225.3 L840.7 230.5" fill="none" stroke="#8e8e8e" stroke-width="2.9" stroke-linejoin="miter"/>
<line x1="835.2" x2="835.2" y1="231.5" y2="394" stroke="#858585" stroke-width="2.7" stroke-dasharray="2.5 2.6"/>
<line x1="978" y1="243.8" x2="1069.8" y2="376.4" stroke="#8d8d72" stroke-width="2.7"/>
<path d="M1062 377.2 L1071.4 378.7 L1070.7 370.5" fill="none" stroke="#8d8d72" stroke-width="2.7" stroke-linejoin="miter" stroke-linecap="round"/>
<circle cx="387.3" cy="420.3" r="16.5" fill="none" stroke="#ad383d" stroke-width="1.35"/>
<circle cx="493.6" cy="410.5" r="16.5" fill="none" stroke="#ad383d" stroke-width="1.35"/>
<circle cx="527.8" cy="410.5" r="16.5" fill="none" stroke="#ad383d" stroke-width="1.35"/>
<circle cx="624.6" cy="445.1" r="16.5" fill="none" stroke="#ad383d" stroke-width="1.35"/>
<circle cx="835.2" cy="415.6" r="16.5" fill="none" stroke="#ad383d" stroke-width="1.35"/>
<circle cx="1066" cy="410.4" r="16.5" fill="none" stroke="#ad383d" stroke-width="1.35"/>
<line x1="47.3" x2="47.3" y1="77.5" y2="579.5" stroke="#7a77da" stroke-width="1.6"/>
<line x1="1075.3" x2="1075.3" y1="77.5" y2="579.5" stroke="#262626" stroke-width="1.8"/>
<text x="36.5" y="582.7" text-anchor="end" font-size="13.8" fill="#2b2b2b">0</text>
<text x="36.5" y="532.5" text-anchor="end" font-size="13.8" fill="#2b2b2b">0.02</text>
<text x="36.5" y="482.3" text-anchor="end" font-size="13.8" fill="#2b2b2b">0.04</text>
<text x="36.5" y="432.1" text-anchor="end" font-size="13.8" fill="#2b2b2b">0.06</text>
<text x="36.5" y="381.9" text-anchor="end" font-size="13.8" fill="#2b2b2b">0.08</text>
<text x="36.5" y="331.7" text-anchor="end" font-size="13.8" fill="#2b2b2b">0.1</text>
<text x="36.5" y="281.5" text-anchor="end" font-size="13.8" fill="#2b2b2b">0.12</text>
<text x="36.5" y="231.3" text-anchor="end" font-size="13.8" fill="#2b2b2b">0.14</text>
<text x="36.5" y="181.1" text-anchor="end" font-size="13.8" fill="#2b2b2b">0.16</text>
<text x="36.5" y="130.9" text-anchor="end" font-size="13.8" fill="#2b2b2b">0.18</text>
<text x="36.5" y="80.7" text-anchor="end" font-size="13.8" fill="#2b2b2b">0.2</text>
<text x="1087.3" y="117.1" font-size="14.6" fill="#222" textLength="39.3" lengthAdjust="spacingAndGlyphs">$100K</text>
<text x="1087.3" y="178.1" font-size="14.6" fill="#222" textLength="31.7" lengthAdjust="spacingAndGlyphs">$40K</text>
<text x="1087.3" y="223.4" font-size="14.6" fill="#222" textLength="31.7" lengthAdjust="spacingAndGlyphs">$20K</text>
<text x="1087.3" y="268.9" font-size="14.6" fill="#222" textLength="31.7" lengthAdjust="spacingAndGlyphs">$10K</text>
<text x="1087.3" y="330.1" font-size="14.6" fill="#222" textLength="24.2" lengthAdjust="spacingAndGlyphs">$4K</text>
<text x="1087.3" y="375.6" font-size="14.6" fill="#222" textLength="24.2" lengthAdjust="spacingAndGlyphs">$2K</text>
<text x="1087.3" y="421.6" font-size="14.6" fill="#222" textLength="24.2" lengthAdjust="spacingAndGlyphs">$1K</text>
<text x="1087.3" y="481.9" font-size="14.6" fill="#222" textLength="30.2" lengthAdjust="spacingAndGlyphs">$400</text>
<text x="1087.3" y="527.9" font-size="14.6" fill="#222" textLength="30.2" lengthAdjust="spacingAndGlyphs">$200</text>
<text x="1087.3" y="573.9" font-size="14.6" fill="#222" textLength="30.2" lengthAdjust="spacingAndGlyphs">$100</text>
<rect x="1075" y="123.3" width="51.4" height="27" fill="#0a0a0a"/>
<text x="1079.6" y="143.2" font-size="14.6" fill="#fff" textLength="42.4" lengthAdjust="spacingAndGlyphs">$68.3K</text>
<text x="1066" y="121.5" text-anchor="middle" font-size="36" font-weight="700" fill="#a8232f">?</text>
<text x="72.3" y="602.0" text-anchor="middle" font-size="11.3" fill="#7c7c7c">2014</text>
<text x="153.7" y="602.0" text-anchor="middle" font-size="11.3" fill="#7c7c7c">2015</text>
<text x="235.1" y="602.0" text-anchor="middle" font-size="11.3" fill="#7c7c7c">2016</text>
<text x="316.5" y="602.0" text-anchor="middle" font-size="11.3" fill="#7c7c7c">2017</text>
<text x="397.9" y="602.0" text-anchor="middle" font-size="11.3" fill="#7c7c7c">2018</text>
<text x="479.3" y="602.0" text-anchor="middle" font-size="11.3" fill="#7c7c7c">2019</text>
<text x="560.7" y="602.0" text-anchor="middle" font-size="11.3" fill="#7c7c7c">2020</text>
<text x="642.1" y="602.0" text-anchor="middle" font-size="11.3" fill="#7c7c7c">2021</text>
<text x="723.5" y="602.0" text-anchor="middle" font-size="11.3" fill="#7c7c7c">2022</text>
<text x="804.9" y="602.0" text-anchor="middle" font-size="11.3" fill="#7c7c7c">2023</text>
<text x="886.3" y="602.0" text-anchor="middle" font-size="11.3" fill="#7c7c7c">2024</text>
<text x="967.7" y="602.0" text-anchor="middle" font-size="11.3" fill="#7c7c7c">2025</text>
<text x="1049.1" y="602.0" text-anchor="middle" font-size="11.3" fill="#7c7c7c">2026</text>
<text x="974" y="622" font-size="10.2" fill="#707070" textLength="145" lengthAdjust="spacingAndGlyphs">© CryptoQuant. All rights reserved</text>
<text x="349.4" y="27.6" font-size="23" font-weight="700" fill="#111" textLength="437.5" lengthAdjust="spacingAndGlyphs">Bitcoin: Fund Flow Ratio - All Exchanges</text>
<line x1="360.8" x2="372.4" y1="51.8" y2="51.8" stroke="#222" stroke-width="1.1"/>
<text x="377.8" y="56.6" font-size="15" fill="#2b2b2b" textLength="63" lengthAdjust="spacingAndGlyphs">Price USD</text>
<line x1="458" x2="470.8" y1="51.8" y2="51.8" stroke="#444" stroke-width="1.1"/>
<text x="474.7" y="56.6" font-size="15" fill="#9a9a9a" textLength="102.3" lengthAdjust="spacingAndGlyphs">Fund Flow Ratio</text>
<line x1="473.5" x2="578" y1="52.2" y2="52.2" stroke="#8f8f8f" stroke-width="1.1"/>
<line x1="594" x2="607.5" y1="51.8" y2="51.8" stroke="#c4c2f0" stroke-width="1.1"/>
<text x="613.2" y="56.6" font-size="15" fill="#2b2b2b" textLength="162" lengthAdjust="spacingAndGlyphs">Fund Flow Ratio-SMA(30)</text>
</svg>
</body>
</html>
